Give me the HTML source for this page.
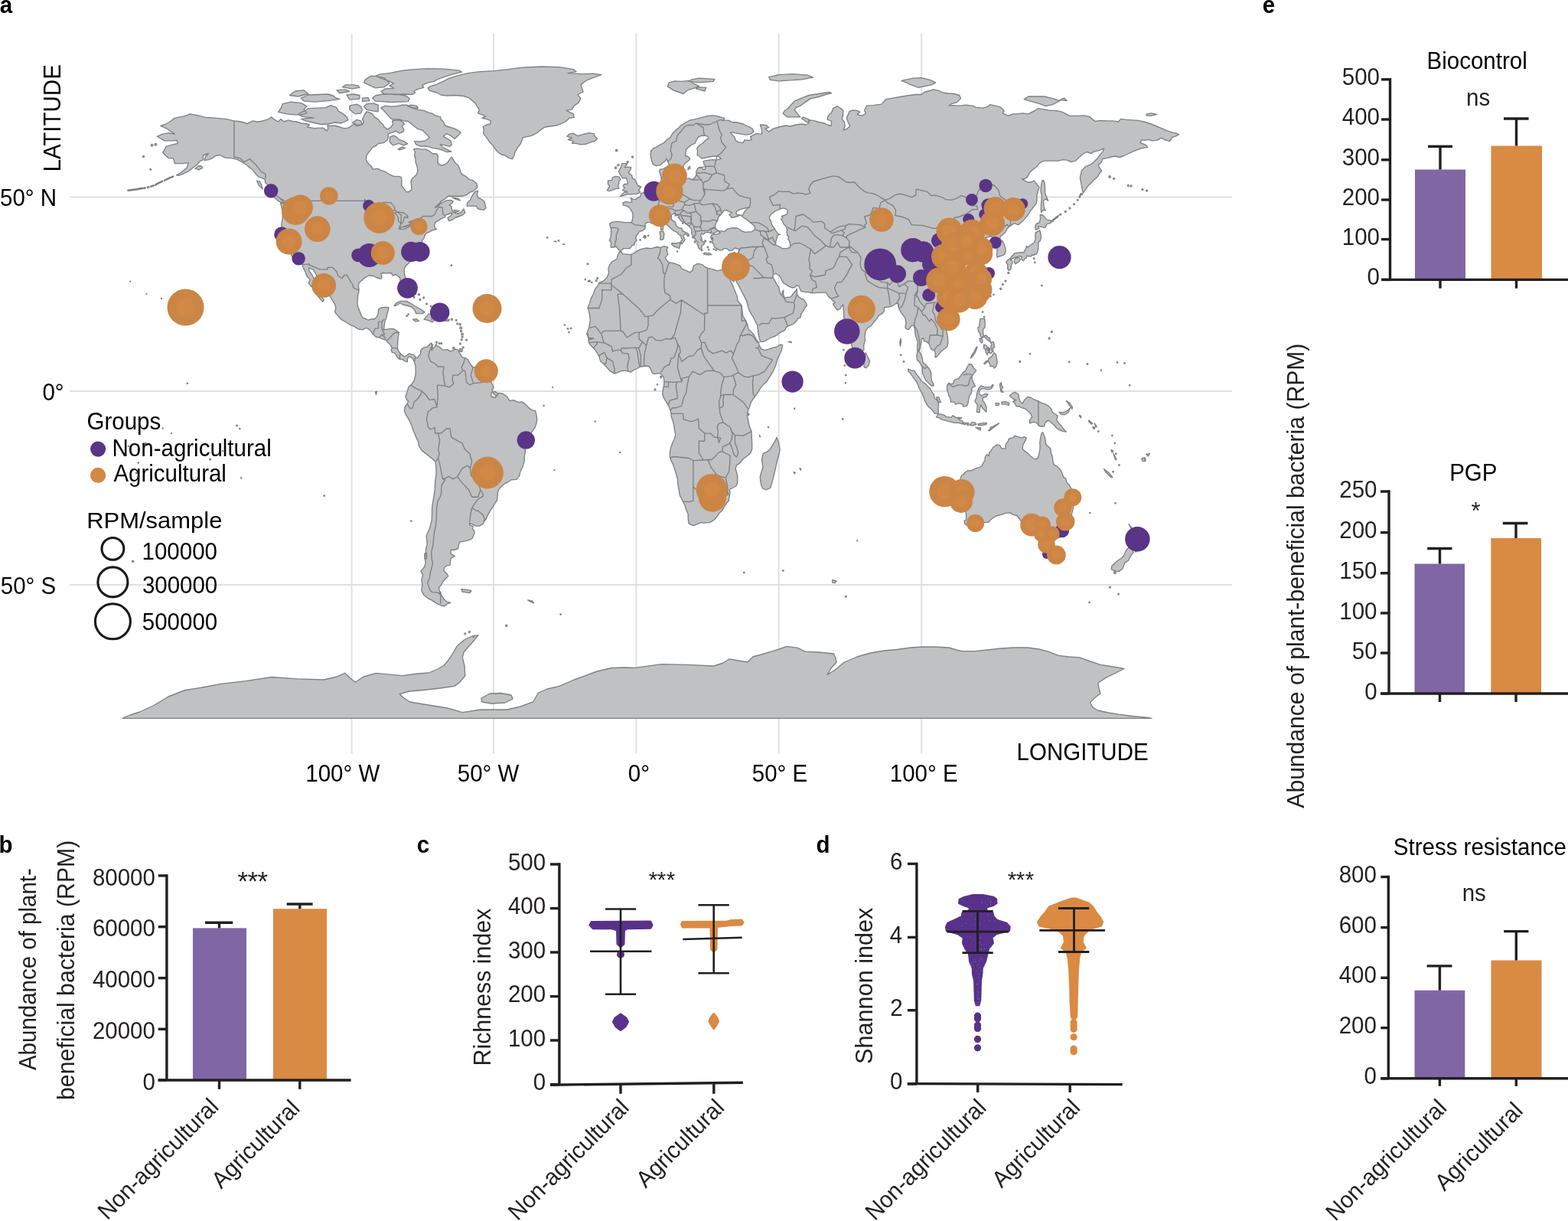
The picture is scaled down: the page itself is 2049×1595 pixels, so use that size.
<!DOCTYPE html><html><head><meta charset="utf-8"><title>Figure</title><style>html,body{margin:0;padding:0;background:#fff;width:2049px;height:1595px;overflow:hidden}svg{display:block}</style></head><body><svg xmlns="http://www.w3.org/2000/svg" width="2049" height="1595" viewBox="0 0 2049 1595" font-family="'Liberation Sans', Arial, Helvetica, sans-serif"><rect width="2049" height="1595" fill="#fff"/><g stroke="#e0e0e0" stroke-width="2"><line x1="459.6" y1="44" x2="459.6" y2="984.5"/><line x1="645.0" y1="44" x2="645.0" y2="984.5"/><line x1="831.4" y1="44" x2="831.4" y2="984.5"/><line x1="1017.7" y1="44" x2="1017.7" y2="984.5"/><line x1="1204.2" y1="44" x2="1204.2" y2="984.5"/><line x1="91.3" y1="257.4" x2="1610" y2="257.4"/><line x1="91.3" y1="511.0" x2="1610" y2="511.0"/><line x1="91.3" y1="763.9" x2="1610" y2="763.9"/></g><g fill="#c0c1c3" stroke="#7e8083" stroke-width="1.35" stroke-linejoin="round"><path d="M305.9,157.9L294.7,155.4L277.9,153.9L268.6,153.4L261.2,151.4L248.1,148.8L242.5,151.4L235.1,152.9L228.0,154.4L222.0,159.0L214.6,163.0L209.7,164.5L218.3,168.1L221.3,170.6L225.8,173.1L228.4,175.2L220.2,173.6L212.7,175.2L205.3,178.2L210.9,181.7L215.0,183.8L223.9,183.8L231.4,183.3L232.1,187.3L225.8,188.8L217.2,191.4L214.6,196.4L212.7,199.0L215.7,202.5L220.2,206.6L226.1,206.6L227.6,210.6L228.4,213.6L238.8,213.6L246.3,212.6L244.0,219.2L239.9,222.8L235.1,226.3L230.6,228.8L233.2,229.3L238.8,227.3L246.3,223.8L251.9,219.2L257.4,215.2L261.2,210.6L265.6,208.6L265.3,203.0L272.4,200.5L268.6,204.5L267.1,209.6L272.4,208.6L277.9,206.6L281.7,203.5L287.3,202.5L294.7,206.1L302.2,206.6L309.6,208.1L317.1,212.1L322.7,215.7L326.4,219.2L330.1,221.8L333.8,226.8L337.6,230.9L343.2,232.9L346.1,234.4L346.9,239.0L350.6,242.0L353.6,246.1L356.2,250.6L356.2,254.2L361.8,256.2L366.3,259.2L371.9,262.3L373.7,266.3L366.6,265.3L368.5,272.9L369.3,276.4L369.3,285.1L367.8,293.7L368.5,300.2L367.8,305.8L370.0,311.4L373.0,318.0L374.8,320.0L377.1,325.1L378.9,329.1L381.9,335.2L386.0,336.2L389.8,338.2L392.4,340.8L395.0,345.8L396.5,349.9L399.1,355.4L400.9,360.5L405.4,365.6L403.2,369.6L406.1,373.7L411.0,377.7L413.6,383.8L415.8,387.3L419.6,391.9L421.8,394.4L423.3,391.4L420.3,387.9L418.4,385.8L416.2,379.2L413.2,371.1L411.0,365.6L408.0,359.5L403.9,353.4L403.5,349.9L409.5,352.4L413.2,359.0L417.0,364.6L419.6,369.1L423.7,374.7L426.6,381.3L430.7,386.3L434.8,392.9L438.2,399.0L438.9,403.0L437.5,407.1L439.3,410.1L442.7,413.7L446.4,417.7L450.5,419.8L455.0,422.8L458.7,424.8L463.5,426.8L468.0,429.9L473.6,430.9L477.3,428.9L480.3,428.9L483.7,431.4L487.4,436.5L491.1,440.0L495.6,441.0L499.0,442.5L502.7,443.6L504.9,444.6L506.4,447.1L509.8,450.1L512.0,454.2L511.3,457.7L512.4,460.3L515.0,460.8L516.8,462.3L519.8,467.4L522.4,469.4L526.5,469.9L529.5,471.9L532.5,472.9L532.1,468.9L535.1,465.3L537.3,466.8L539.9,468.9L541.4,472.9L542.9,477.5L543.3,485.1L542.9,490.7L541.1,497.2L537.7,502.3L533.6,505.8L532.9,509.4L531.4,513.9L529.9,518.0L531.7,522.6L533.6,523.6L532.1,527.6L529.1,531.2L528.4,536.2L529.9,540.8L533.6,546.9L537.0,553.4L539.9,562.1L543.3,570.2L546.7,577.8L547.4,582.3L551.1,588.4L557.5,593.4L563.8,598.5L569.0,603.1L569.8,609.7L570.1,618.8L568.6,629.4L568.3,638.5L566.8,649.7L565.3,657.3L564.5,664.9L564.5,672.4L564.2,679.5L562.7,685.6L560.8,691.7L558.6,696.8L557.1,700.3L557.8,705.4L558.2,711.4L556.7,716.0L556.3,721.6L555.2,729.2L556.3,735.7L554.1,741.3L550.0,745.9L552.6,750.9L550.8,757.5L551.9,763.6L550.8,771.2L553.4,776.8L559.3,781.8L564.9,784.4L570.5,788.4L575.7,790.4L580.6,792.0L584.3,788.9L588.8,787.4L583.6,785.9L579.5,781.8L576.8,777.3L573.1,775.2L576.5,775.2L574.2,771.7L573.5,767.7L576.5,764.1L579.1,759.5L581.7,756.5L585.8,752.5L583.9,749.4L579.8,745.4L580.9,741.3L583.9,738.8L588.0,738.3L588.4,734.2L589.1,729.7L591.8,727.6L594.4,726.6L591.4,724.6L589.1,723.6L589.1,718.5L593.6,718.5L598.8,716.5L599.6,710.4L601.1,707.9L607.8,706.9L614.5,704.9L617.1,703.3L619.7,697.3L620.1,694.2L617.5,690.7L618.2,687.6L614.1,686.1L613.4,683.6L616.7,684.6L621.6,687.1L626.4,687.1L630.9,684.6L632.8,681.1L635.4,677.5L637.6,672.4L640.6,667.4L643.9,662.3L646.9,657.3L649.5,653.7L650.3,647.1L650.6,642.1L652.5,638.5L656.2,634.5L660.0,631.4L663.7,629.9L667.4,626.9L674.9,626.4L678.6,621.8L680.1,615.7L683.1,609.7L685.3,601.6L685.3,596.5L686.4,589.9L686.0,581.3L686.4,576.2L689.8,573.7L692.0,568.6L695.4,563.6L699.1,558.5L701.0,552.9L701.7,547.4L701.0,541.8L699.5,536.7L695.4,535.7L692.0,533.7L687.9,529.1L682.7,525.1L676.7,525.1L671.1,522.6L665.9,523.6L662.6,518.0L656.2,513.9L651.4,513.4L648.8,518.0L645.0,513.9L642.8,509.9L645.0,505.8L642.8,501.3L640.6,495.2L639.1,489.1L635.7,485.1L630.9,481.0L626.4,480.0L620.8,480.0L618.2,480.0L614.9,476.0L611.5,469.9L607.8,467.4L604.1,466.8L600.3,460.8L598.5,456.7L593.6,456.2L589.1,459.3L584.7,456.7L578.7,457.2L576.5,455.2L572.7,452.2L569.8,451.7L570.5,448.6L568.3,452.7L565.3,455.2L564.5,457.7L563.1,454.2L565.7,450.6L563.4,448.1L560.8,450.6L558.2,453.2L554.9,453.7L552.6,454.7L550.0,457.2L549.3,462.8L547.0,465.3L545.2,467.9L542.9,466.3L540.7,463.3L538.1,462.8L534.7,461.8L531.7,464.3L528.0,465.8L525.0,463.8L522.8,461.3L519.8,456.7L519.5,452.2L519.8,446.6L520.2,442.0L520.9,436.5L521.3,434.4L518.3,432.4L515.0,429.9L510.9,429.4L504.9,430.4L501.6,430.4L502.3,424.3L503.1,419.2L504.5,416.2L505.7,411.1L507.2,405.6L507.9,401.5L505.3,401.5L501.6,401.5L496.7,402.5L494.5,404.6L494.1,410.1L492.2,414.2L489.3,416.7L485.5,416.7L481.1,418.2L478.1,416.7L474.0,415.2L471.7,411.1L469.9,406.1L468.0,401.5L466.9,397.5L467.3,391.4L467.6,386.3L468.8,381.3L469.1,378.7L468.4,373.7L469.1,369.6L473.6,365.6L477.3,362.5L481.8,360.0L488.5,360.5L492.6,363.0L498.2,364.1L499.0,361.0L497.5,357.5L501.6,356.5L505.3,357.0L510.9,356.5L513.5,360.0L517.2,358.5L520.2,360.5L522.8,363.5L523.2,368.6L525.0,374.2L526.5,377.7L528.8,382.3L531.7,382.8L532.9,378.7L532.9,374.2L531.0,367.1L529.9,363.0L528.4,357.5L528.0,351.9L530.3,347.3L533.6,344.3L537.0,340.8L540.7,338.7L544.4,335.2L547.4,333.2L550.0,331.6L548.9,326.6L548.1,323.5L549.6,320.0L551.5,315.9L551.9,313.9L554.1,310.9L555.6,306.3L556.7,304.8L561.2,302.8L564.9,300.8L568.3,300.2L570.5,299.2L568.6,297.7L567.5,294.7L568.3,292.1L569.8,289.6L573.1,288.1L576.1,286.1L581.7,283.5L582.1,281.0L586.2,279.5L591.0,278.0L589.5,281.5L585.0,284.5L586.5,288.6L590.3,287.6L594.7,284.5L600.3,282.5L604.1,281.0L607.8,278.0L605.9,272.9L602.2,277.5L598.5,279.0L593.6,278.0L590.6,274.4L589.9,269.9L587.3,267.8L591.4,264.8L592.1,262.8L588.4,261.3L583.6,261.8L577.2,264.8L571.6,269.9L568.3,271.4L569.4,269.9L574.2,265.8L577.2,262.3L580.6,260.7L585.4,256.2L591.0,256.2L598.5,256.2L604.1,256.2L609.6,254.7L614.1,251.1L618.6,249.6L621.6,247.1L623.8,244.5L622.7,239.5L617.8,235.4L614.1,234.9L609.6,230.9L604.1,227.8L601.8,224.3L600.3,219.2L598.5,215.7L594.7,212.6L592.5,208.6L590.3,205.0L588.0,207.6L585.4,211.6L581.7,214.7L577.2,216.2L572.4,213.6L572.0,209.1L572.4,203.5L570.5,201.0L564.9,200.5L561.2,197.4L556.3,194.9L550.0,194.9L544.4,193.9L540.7,194.9L542.6,199.0L541.4,202.5L542.9,207.6L543.3,212.6L545.2,217.7L545.9,223.8L543.7,228.8L538.8,232.9L537.0,236.9L537.7,243.0L537.7,248.1L534.0,250.6L531.0,250.6L527.6,246.1L524.7,242.0L525.0,236.9L524.3,231.4L520.2,230.4L514.6,230.4L509.0,227.8L503.4,224.3L497.8,222.3L493.0,220.2L487.4,221.2L484.8,216.7L480.3,212.6L478.5,208.6L478.8,204.0L480.7,200.5L484.0,196.4L487.0,192.4L492.2,189.8L493.7,187.8L501.6,186.3L506.0,183.3L507.5,179.2L507.2,175.2L510.1,173.6L512.7,173.1L517.2,171.1L522.1,174.2L527.6,171.6L527.6,168.6L525.0,164.5L528.4,162.5L526.9,160.0L523.5,157.4L516.5,156.9L512.7,157.9L513.5,162.5L510.9,166.0L506.4,169.1L502.3,166.0L500.4,162.5L496.7,159.5L494.1,155.9L489.3,152.9L486.7,148.8L481.8,146.3L478.8,145.8L476.6,149.3L473.6,155.9L475.5,159.5L471.7,163.5L466.2,164.5L464.3,161.0L460.6,163.5L455.0,167.1L449.4,167.6L443.8,166.0L438.2,164.0L432.6,164.5L427.8,164.0L428.9,167.6L427.4,171.1L422.2,167.1L417.0,167.1L411.0,167.6L405.8,166.6L401.7,166.0L404.3,163.0L399.8,161.5L393.5,161.0L387.9,159.0L382.3,158.5L376.7,156.9L371.1,159.0L367.0,155.4L363.7,159.0L358.1,155.9L354.3,152.9L350.6,155.9L346.9,156.9L341.3,158.5L335.7,159.0L330.1,157.9L326.4,160.0L322.7,161.5L317.1,159.5L311.5,158.5ZM669.3,207.6L664.4,206.1L660.0,203.0L654.4,201.5L650.3,198.5L646.9,194.4L643.9,189.8L640.2,186.3L637.6,182.3L634.6,178.2L631.6,174.2L632.4,169.6L631.3,165.5L635.7,163.0L640.6,162.0L641.3,157.9L636.9,155.9L630.1,154.4L634.6,151.9L630.1,149.8L624.6,147.8L626.4,143.3L623.4,138.7L620.8,134.7L616.0,130.6L612.3,127.6L605.9,125.5L594.7,124.5L583.6,125.0L576.1,124.0L570.5,121.0L561.2,118.4L559.3,114.9L563.1,112.4L570.5,110.3L578.0,106.8L587.3,102.2L598.5,98.7L611.5,95.7L626.4,93.6L645.0,92.6L663.7,90.6L682.3,88.1L708.4,87.0L730.8,87.6L749.4,90.6L753.1,93.6L742.0,95.7L760.6,96.7L775.5,96.2L785.9,97.7L777.4,100.7L768.0,104.3L762.5,107.8L759.1,110.9L760.6,115.4L762.1,120.0L755.0,123.5L758.7,128.6L756.1,134.1L750.2,138.2L747.5,142.8L740.1,144.3L749.4,148.8L750.2,153.4L743.8,154.4L739.0,159.0L728.9,163.5L719.6,165.0L712.1,166.0L706.5,169.6L701.0,174.2L693.5,177.7L687.9,178.7L683.1,180.2L681.6,184.8L679.7,188.8L676.7,192.4L673.0,198.5L671.9,203.5L669.3,207.6ZM589.9,198.0L584.7,195.4L578.7,192.4L575.0,188.3L579.8,189.3L587.3,191.4L590.3,189.3L589.1,183.8L584.3,181.2L579.1,178.2L583.6,174.7L589.1,177.2L594.0,181.2L598.5,177.2L602.2,173.1L598.1,170.1L592.9,167.6L587.3,166.0L581.7,164.0L579.8,159.5L576.1,155.9L575.7,152.9L568.6,150.9L564.9,148.3L559.3,146.8L553.7,144.3L546.3,143.3L540.7,141.7L531.4,137.2L525.8,137.2L518.3,138.7L510.9,139.2L503.4,138.2L497.8,140.7L502.7,145.8L507.2,150.9L510.9,154.9L514.6,156.4L522.1,155.9L527.6,157.9L533.2,158.5L537.0,161.5L540.7,164.5L546.3,168.6L551.9,170.1L555.6,173.6L559.3,177.2L561.2,180.2L555.6,183.8L548.1,184.8L541.4,184.3L543.7,188.8L550.0,191.4L555.6,190.9L561.2,191.9L564.9,193.4L568.6,193.9L574.2,194.9L578.7,196.4L583.6,198.5L589.9,198.0ZM546.3,141.2L538.8,141.2L532.5,138.7L537.0,137.2L544.4,138.2ZM532.5,187.8L527.6,189.8L521.3,187.3L513.5,189.8L509.0,185.3L509.8,178.7L514.6,177.2L518.3,179.2L521.3,182.3L527.6,184.3ZM529.5,193.4L522.1,195.9L520.2,194.9L525.8,191.9ZM533.2,132.6L522.1,133.1L510.9,133.6L499.7,132.6L490.4,132.1L486.7,128.1L490.4,125.0L499.7,123.0L510.9,123.0L522.1,123.5L531.4,125.5L535.1,129.1ZM538.8,123.5L527.6,123.0L516.5,123.5L501.6,122.5L497.8,119.5L503.4,115.9L514.6,115.4L509.0,111.9L514.6,108.8L505.3,104.8L501.6,101.7L490.4,99.7L496.0,97.2L510.9,95.2L525.8,92.1L540.7,90.6L559.3,89.6L581.7,90.1L600.3,92.1L603.3,94.1L591.0,97.2L581.7,100.2L572.4,103.3L566.8,106.3L557.5,108.3L551.9,111.4L553.7,114.4L546.3,116.4L540.7,119.0L542.6,121.0ZM509.0,108.8L501.6,113.9L490.4,114.9L482.9,111.4L475.5,107.8L477.3,103.8L484.8,99.2L492.2,99.7L497.8,102.2L505.3,104.8ZM469.9,114.4L460.6,115.9L447.5,113.9L451.2,110.9L462.4,110.9L468.0,111.9ZM456.8,119.5L443.8,121.5L440.1,117.9L451.2,116.9ZM482.9,131.6L473.6,132.6L473.6,128.1L481.1,127.6ZM469.9,129.1L456.8,130.1L453.1,124.0L462.4,123.0L469.9,124.5ZM443.8,129.6L428.9,131.6L412.1,133.1L397.2,132.1L393.1,128.1L402.8,124.0L415.8,123.5L428.9,123.0L436.3,125.5L438.2,127.6ZM402.8,122.5L389.8,126.0L378.6,124.5L386.0,119.0L397.2,117.9ZM400.9,147.8L393.5,149.8L384.2,149.8L374.8,148.8L363.7,146.3L367.4,140.7L369.3,135.7L380.4,133.1L393.5,134.7L400.9,138.7L397.2,142.8ZM455.0,156.9L445.7,161.0L438.2,160.0L428.9,162.0L419.6,162.5L408.4,160.0L399.1,157.9L393.5,155.4L410.2,153.9L395.3,152.4L389.8,149.3L393.5,146.8L399.1,144.3L402.8,141.7L414.0,141.2L425.2,140.7L432.6,137.7L440.1,140.7L441.9,144.8L449.4,149.3L453.1,152.9ZM471.7,147.8L464.3,148.8L460.6,146.3L456.8,142.8L456.8,138.2L466.2,136.2L471.7,139.2L473.6,143.3ZM494.1,145.8L486.7,144.8L479.2,143.3L475.5,139.2L479.2,135.7L488.5,135.2L494.1,137.2ZM473.6,163.0L464.3,163.5L460.6,160.0L466.2,156.4L471.7,157.9ZM610.4,269.4L617.1,268.8L622.7,269.4L624.6,272.9L632.0,274.4L635.0,271.4L633.9,267.3L633.1,263.3L628.3,259.7L624.6,258.2L623.4,254.2L624.6,249.1L620.5,250.6L617.5,254.7L614.1,261.8L610.4,265.3ZM591.0,258.2L596.6,260.7L601.4,261.8L598.5,259.2ZM592.9,274.4L600.3,275.4L595.5,277.5ZM371.9,265.3L367.4,264.3L363.3,262.3L359.2,258.7L354.3,255.7L353.2,253.1L358.1,254.2L363.7,257.2L367.4,260.7ZM343.2,247.1L338.3,242.0L335.7,236.4L339.4,236.9L341.3,240.5ZM264.9,219.2L260.1,221.8L254.8,220.2L259.3,216.7L263.0,216.7ZM515.0,399.5L518.3,395.4L523.9,393.4L531.4,393.4L537.0,396.5L542.6,400.0L548.1,403.0L554.9,407.6L551.9,409.6L543.7,409.6L542.2,405.6L537.7,401.0L531.4,399.0L526.5,398.0L522.8,396.0L517.6,399.0ZM554.1,417.2L560.1,410.1L564.9,409.6L570.5,410.6L573.5,414.2L576.5,416.2L574.2,417.2L567.9,418.2L564.9,420.8L560.1,418.7L554.1,417.2ZM539.6,417.2L544.4,416.7L547.4,419.2L545.2,419.8L542.6,419.8ZM580.9,416.7L586.9,417.2L586.5,419.2L580.9,419.2ZM540.7,375.2L544.4,376.2L543.7,377.7L539.9,376.2ZM539.9,383.8L541.8,387.9L541.4,389.9L539.2,386.3ZM602.9,769.7L609.6,770.2L616.0,771.7L613.4,774.7L608.5,773.7L604.1,773.2ZM557.5,722.1L554.9,723.1L554.9,729.7L557.5,729.7ZM600.7,455.7L604.4,455.7L604.1,459.3L600.7,459.3ZM642.1,512.9L646.9,511.4L651.0,514.5L646.9,519.5L642.1,518.0ZM809.4,329.1L807.5,332.7L806.1,338.2L803.1,340.2L799.7,341.8L796.7,345.8L794.9,351.4L795.6,356.5L793.4,362.0L789.3,366.6L783.3,369.1L780.7,373.7L777.4,378.2L775.5,383.8L772.1,390.4L770.6,396.0L768.0,402.0L769.5,406.6L770.6,412.2L771.4,418.2L769.9,426.3L768.4,431.9L766.6,436.0L768.8,440.5L769.2,446.6L771.0,450.1L774.0,453.2L777.0,456.2L780.3,460.8L782.6,465.3L784.8,471.9L788.9,475.5L792.6,479.5L797.1,484.6L803.1,488.1L807.2,486.6L812.0,484.6L816.5,484.1L821.0,485.1L824.7,486.1L828.4,483.1L833.3,481.0L837.0,479.0L841.5,478.5L844.4,478.0L848.2,479.0L850.0,481.5L852.3,487.1L854.1,488.6L857.5,488.1L862.3,487.6L864.6,490.1L866.8,492.2L867.9,497.2L867.6,504.3L866.4,508.9L865.7,514.5L867.2,519.5L870.9,525.6L873.5,529.6L875.8,535.2L876.9,539.8L877.2,544.3L879.5,550.4L880.6,555.5L881.7,562.6L882.8,567.6L881.0,574.2L878.7,578.8L876.9,584.3L875.4,590.4L875.4,596.5L876.9,601.6L879.5,606.6L881.7,613.2L883.6,619.3L885.4,625.9L885.8,631.9L887.3,641.1L888.4,647.1L892.5,655.2L894.8,659.8L896.6,665.9L899.2,671.4L899.2,677.5L900.0,683.1L903.3,685.6L905.9,686.6L911.5,684.6L915.6,682.6L920.8,683.1L926.8,682.6L930.2,681.1L933.9,678.5L937.2,674.5L940.2,669.9L943.6,666.9L946.9,661.3L949.5,657.3L952.2,654.2L953.3,647.1L954.0,642.6L952.9,639.5L956.3,638.0L961.8,635.0L963.7,631.4L963.7,622.8L963.0,618.3L961.1,612.2L962.6,607.6L966.7,605.1L971.2,599.5L976.8,595.5L980.9,591.4L982.7,586.4L982.7,578.8L982.3,571.2L982.0,563.6L979.0,556.0L977.9,549.9L976.4,542.8L977.5,536.2L979.4,531.7L981.2,526.1L983.8,521.5L986.4,518.5L989.8,513.4L993.5,507.4L997.6,502.3L1002.1,498.2L1006.6,491.2L1010.3,485.1L1013.7,477.0L1015.9,469.4L1019.2,462.3L1021.5,456.7L1022.6,450.6L1019.6,450.1L1015.1,453.2L1010.3,454.2L1004.3,456.2L999.1,457.7L994.6,455.7L992.4,451.7L990.9,447.1L987.9,442.5L985.0,437.0L981.2,432.9L978.2,429.9L976.8,424.3L974.5,418.7L970.8,413.2L970.0,406.1L968.9,399.0L964.1,392.9L963.3,387.3L960.0,379.2L957.4,372.7L954.4,366.1L952.9,359.0L952.2,351.9L949.2,350.9L945.4,350.9L942.5,352.4L937.6,353.9L932.0,351.9L925.3,350.4L920.8,348.4L917.1,345.3L911.5,344.3L906.3,347.3L904.8,353.4L901.5,355.9L896.6,353.4L891.0,351.4L888.4,346.8L880.6,343.8L874.3,342.8L870.9,339.7L869.4,336.7L872.8,332.1L870.9,326.1L872.8,323.0L869.0,322.0L867.6,321.5L863.1,323.5L858.2,322.5L851.5,324.6L844.4,324.0L837.0,325.6L831.4,328.6L826.9,331.6L823.2,332.7L818.4,332.1L813.5,331.6L811.6,328.6ZM810.5,328.1L807.9,325.6L805.3,322.0L801.6,323.0L798.2,323.0L798.6,317.0L796.4,314.4L797.9,309.9L798.6,304.8L798.6,298.7L797.1,295.2L796.7,292.1L800.5,290.1L805.3,289.6L809.8,289.6L816.5,290.6L823.9,290.6L825.8,289.6L826.9,284.5L826.9,278.5L824.3,273.9L822.1,270.9L818.4,268.8L814.3,267.8L813.9,264.8L818.4,263.3L823.2,264.3L825.8,263.8L824.3,258.7L826.9,260.2L830.7,260.7L832.9,258.7L837.0,256.7L837.4,252.6L840.7,251.6L844.1,250.1L847.1,247.1L848.9,242.5L851.9,240.5L857.5,239.5L862.0,239.0L863.8,236.9L864.2,232.9L863.5,229.3L861.6,224.3L862.3,221.2L866.8,220.7L870.9,218.2L870.2,222.3L869.8,225.3L872.0,224.8L869.4,228.8L868.3,231.9L869.4,234.9L872.4,236.9L877.2,235.4L881.3,234.4L884.3,237.5L889.2,235.9L894.4,233.9L900.3,232.9L904.4,234.9L907.8,232.4L910.0,228.3L909.7,224.3L911.9,219.7L915.6,218.2L919.0,221.2L921.6,221.2L922.3,217.2L920.1,214.7L919.0,210.6L923.5,209.6L930.2,208.6L935.8,209.1L942.5,207.1L938.4,204.0L932.0,204.0L924.6,205.5L917.1,207.1L914.5,204.5L911.2,202.5L911.5,197.4L910.8,193.4L914.1,189.8L919.0,186.3L923.1,182.3L926.1,180.7L924.9,178.2L921.6,177.2L916.4,177.2L912.6,179.2L910.4,182.3L908.2,187.3L904.1,188.8L900.3,191.9L896.6,194.9L895.9,200.5L895.5,203.5L899.6,205.0L901.8,207.6L899.6,210.1L896.6,212.1L893.3,215.7L892.9,220.7L891.0,225.3L885.8,226.8L879.9,229.9L879.5,227.3L878.4,224.3L876.9,220.2L875.0,216.7L873.1,212.1L871.7,209.1L870.9,207.1L869.4,210.6L866.8,212.1L862.7,215.7L857.5,216.7L853.4,214.7L851.9,211.1L850.8,206.6L850.0,201.5L850.8,196.9L853.8,193.9L858.2,191.9L863.1,188.8L867.9,186.3L871.7,182.3L876.1,179.2L878.7,174.7L882.8,170.1L886.9,167.1L889.5,164.0L892.9,162.0L897.7,159.0L902.2,156.9L907.8,155.9L913.4,154.4L919.0,152.9L924.6,151.4L930.2,150.9L935.8,151.4L941.3,152.9L946.9,154.4L945.1,156.9L952.5,157.4L956.3,159.5L963.7,160.0L971.2,162.0L978.6,165.5L983.1,168.1L985.0,172.1L981.2,175.2L974.9,176.2L965.6,174.7L958.1,173.1L954.4,173.1L960.0,179.2L961.1,183.3L965.6,185.8L971.2,186.3L973.0,182.8L978.6,183.3L982.3,182.3L980.5,178.7L987.9,174.7L995.4,175.2L995.4,169.6L993.5,163.0L1001.0,163.5L1004.7,166.6L999.9,168.1L1004.7,172.1L1010.3,168.1L1017.8,166.0L1027.1,164.0L1032.7,165.0L1040.1,163.0L1047.6,162.0L1053.2,163.0L1056.9,161.0L1056.9,156.9L1062.5,157.4L1069.9,159.5L1077.4,161.0L1081.1,163.0L1086.0,164.5L1086.7,158.5L1081.1,155.9L1082.2,150.9L1086.7,146.8L1088.6,141.7L1094.2,138.7L1099.0,141.7L1102.0,144.8L1101.6,149.8L1100.5,155.9L1103.5,159.5L1104.2,165.0L1102.0,170.1L1107.2,168.1L1110.9,164.5L1109.1,161.5L1107.2,156.9L1106.5,153.4L1108.3,149.8L1110.2,145.3L1114.7,143.8L1120.2,144.3L1124.0,146.3L1120.2,149.3L1125.8,151.4L1131.4,148.3L1129.6,144.3L1132.5,138.2L1140.7,137.7L1151.9,136.2L1155.6,132.1L1157.5,129.6L1166.8,128.1L1176.1,126.5L1185.5,125.0L1196.6,123.5L1204.1,123.5L1207.8,120.5L1220.1,116.9L1226.5,118.4L1232.1,121.0L1239.5,122.0L1247.0,122.5L1253.7,124.5L1255.5,128.6L1250.7,133.6L1243.2,135.7L1239.5,138.2L1245.1,137.7L1254.4,138.2L1261.9,137.2L1271.2,138.2L1274.9,140.2L1284.2,141.2L1289.8,139.7L1293.5,136.7L1302.9,138.7L1308.5,140.7L1312.2,144.8L1310.3,147.8L1317.8,151.4L1323.4,148.8L1329.0,148.8L1336.4,147.8L1343.9,148.8L1349.5,145.8L1353.2,143.8L1356.9,141.7L1364.4,142.8L1371.8,144.3L1379.3,144.3L1386.7,145.8L1392.3,148.3L1397.9,151.4L1407.2,151.4L1416.5,150.9L1424.0,152.4L1427.7,155.9L1431.4,158.5L1438.9,157.4L1446.4,157.9L1453.8,157.9L1461.3,159.0L1465.0,155.4L1472.4,156.4L1479.9,156.9L1487.4,157.4L1496.7,159.5L1504.1,162.0L1511.6,165.0L1519.0,168.1L1524.6,170.6L1532.1,173.1L1535.8,173.6L1540.6,175.7L1535.8,178.2L1532.1,179.2L1530.2,182.3L1528.3,184.3L1522.8,182.8L1517.2,180.2L1511.6,183.3L1506.0,183.8L1500.4,182.3L1496.7,183.3L1492.2,182.8L1489.6,186.3L1497.4,189.3L1499.7,192.4L1491.1,193.9L1481.8,197.4L1476.2,200.0L1468.7,203.5L1463.1,205.5L1457.5,204.0L1451.9,205.0L1446.4,206.6L1440.8,207.6L1439.6,211.6L1435.2,215.7L1437.0,219.2L1439.6,223.3L1437.0,226.3L1434.1,230.9L1429.6,234.9L1425.9,239.0L1422.1,242.5L1419.1,247.1L1415.4,252.1L1413.9,246.1L1412.8,239.5L1411.3,231.9L1413.6,222.8L1418.4,217.7L1425.9,214.7L1432.6,208.6L1437.0,203.0L1441.5,197.4L1442.6,193.9L1437.0,196.4L1429.6,198.0L1425.9,200.5L1420.3,198.5L1414.7,201.5L1409.1,206.6L1405.4,210.1L1399.8,211.6L1394.2,209.1L1388.6,208.6L1383.0,210.1L1375.5,210.1L1370.0,210.1L1364.4,210.1L1358.8,212.6L1355.0,217.7L1349.5,221.8L1345.7,225.3L1342.0,231.9L1338.3,233.9L1335.3,233.4L1342.0,238.0L1347.6,238.0L1351.3,235.9L1354.7,240.5L1358.0,244.5L1356.5,249.6L1355.0,254.7L1355.0,260.7L1354.3,265.3L1350.2,270.9L1346.8,275.4L1343.5,280.5L1339.0,286.1L1335.7,289.6L1330.8,293.7L1325.2,291.6L1321.9,294.2L1318.5,296.2L1315.9,299.2L1314.0,303.3L1310.7,306.3L1307.0,308.9L1306.6,311.9L1309.9,314.9L1312.2,319.0L1313.7,324.0L1314.0,329.1L1312.9,332.1L1310.3,333.7L1307.0,334.7L1302.9,336.2L1302.5,332.1L1303.2,328.1L1302.9,324.0L1304.0,320.0L1301.7,319.0L1298.4,319.5L1296.5,317.5L1298.4,314.4L1298.0,310.9L1295.0,308.9L1291.7,309.4L1287.2,310.9L1284.2,313.4L1283.1,310.9L1285.3,308.9L1287.2,305.3L1284.2,303.3L1280.5,305.8L1277.1,308.3L1274.2,311.9L1271.2,312.4L1269.7,314.9L1271.2,317.5L1274.2,320.5L1275.7,322.0L1278.6,321.0L1281.6,319.0L1284.6,320.5L1288.0,321.5L1287.6,323.5L1283.1,325.1L1280.5,327.6L1277.1,330.1L1275.7,334.2L1279.4,336.7L1281.2,341.8L1283.5,346.3L1285.7,349.9L1285.7,353.9L1283.5,356.5L1286.1,359.0L1285.0,363.0L1283.9,367.1L1281.2,371.1L1279.0,375.2L1277.1,379.2L1275.7,382.3L1273.4,385.8L1270.4,388.4L1267.5,390.9L1264.9,394.4L1261.1,394.9L1257.0,397.5L1254.8,397.0L1252.6,399.0L1248.8,400.0L1245.1,401.5L1242.9,403.0L1242.1,407.6L1240.6,406.1L1240.3,402.0L1235.8,401.0L1233.2,401.5L1229.4,405.1L1228.3,408.6L1225.7,412.7L1225.0,416.2L1228.0,420.3L1230.9,425.3L1234.7,428.9L1236.9,432.9L1238.4,440.5L1238.8,447.6L1238.0,452.2L1235.0,455.2L1231.3,457.7L1228.3,460.8L1225.0,465.3L1222.0,466.8L1222.4,461.3L1220.9,457.7L1217.1,456.7L1215.3,452.7L1213.8,448.6L1210.4,446.1L1207.5,445.6L1207.1,442.0L1204.5,442.5L1203.7,447.1L1202.2,454.7L1201.1,458.7L1203.7,463.3L1205.2,467.9L1206.0,473.4L1208.6,475.5L1211.9,479.0L1214.9,482.5L1216.8,487.6L1216.8,492.7L1217.5,497.2L1219.8,501.8L1220.1,503.8L1217.1,503.8L1213.8,500.8L1209.3,496.2L1207.5,491.7L1205.6,487.6L1205.2,483.6L1205.2,478.5L1203.7,477.0L1201.5,472.9L1198.5,469.9L1197.8,465.3L1198.9,459.8L1198.5,452.2L1199.3,447.1L1197.4,441.5L1195.9,435.5L1195.2,428.4L1193.7,424.8L1191.1,425.3L1187.3,430.4L1184.7,429.9L1182.9,427.9L1184.0,421.3L1182.9,415.7L1180.2,411.7L1178.0,409.1L1175.4,404.6L1174.3,400.5L1173.5,396.5L1171.3,396.0L1168.7,398.0L1166.1,399.5L1163.1,400.5L1160.5,401.0L1155.6,401.5L1155.3,406.6L1153.0,409.6L1148.9,411.7L1145.6,416.7L1141.9,420.8L1138.1,425.8L1134.4,427.9L1131.1,432.4L1129.9,439.5L1130.7,444.1L1128.8,450.1L1128.8,457.2L1126.6,458.7L1125.5,462.8L1122.9,465.3L1120.2,469.4L1116.9,465.3L1115.8,461.3L1113.9,453.7L1111.7,447.1L1109.8,441.0L1107.9,434.9L1105.3,429.4L1103.8,421.8L1102.7,414.2L1102.7,407.6L1102.0,402.5L1101.6,398.0L1099.7,400.0L1097.9,403.5L1094.2,405.1L1090.1,400.0L1088.6,397.0L1091.5,394.9L1087.8,392.4L1086.3,390.4L1083.0,387.9L1081.1,384.8L1079.2,381.8L1073.7,382.3L1068.1,382.3L1061.0,382.8L1056.9,381.8L1051.3,381.3L1046.8,380.3L1045.0,376.7L1043.8,373.7L1041.2,372.7L1038.2,375.7L1034.5,375.7L1030.8,374.2L1027.1,371.6L1023.3,369.1L1020.7,364.1L1018.5,360.0L1015.9,358.5L1013.7,357.0L1010.3,359.0L1009.9,362.5L1012.2,366.1L1015.1,371.6L1017.8,375.2L1018.5,379.2L1020.0,383.8L1021.5,385.8L1022.6,380.8L1023.7,379.2L1023.7,384.8L1025.2,388.9L1028.9,388.4L1033.4,387.9L1037.1,382.8L1040.1,379.7L1041.2,377.2L1041.6,383.8L1043.1,387.3L1046.8,389.9L1050.5,391.4L1053.5,396.0L1054.3,399.0L1052.0,402.0L1049.4,406.6L1046.8,410.1L1046.1,414.7L1042.3,416.7L1040.1,420.3L1037.1,422.8L1032.7,424.8L1027.4,427.4L1025.6,431.4L1019.6,434.4L1014.0,438.5L1010.3,440.0L1004.7,442.5L1000.2,445.1L996.5,446.6L993.5,446.1L992.4,442.5L990.9,435.5L990.5,430.4L989.8,425.3L987.2,420.3L984.6,414.7L981.6,410.1L979.0,405.1L977.1,399.5L976.0,393.9L973.4,388.9L970.8,383.8L968.2,378.7L965.2,372.7L962.6,368.6L961.1,364.1L961.5,361.0L960.4,362.5L958.9,368.1L956.6,366.1L955.1,362.0L952.9,358.5L951.8,351.9L956.3,352.9L959.2,351.9L960.7,347.8L961.8,344.3L962.6,340.8L964.1,336.7L965.2,332.1L964.8,329.1L966.3,325.1L963.7,325.1L960.4,324.0L957.0,327.1L952.9,327.6L949.5,324.6L945.4,324.6L944.3,326.6L940.6,327.1L936.9,324.6L933.5,323.0L932.8,319.0L930.2,316.4L931.3,313.9L931.7,310.4L928.7,310.4L929.4,307.3L933.1,305.8L937.6,305.8L941.3,304.3L939.5,302.8L935.8,302.8L932.0,304.8L929.0,304.8L925.7,303.3L921.6,303.8L919.0,306.3L916.7,304.8L915.6,307.8L917.1,311.9L916.0,313.9L919.0,315.9L920.8,317.5L919.0,320.0L917.1,321.0L916.7,325.6L915.3,326.1L913.0,324.0L911.9,320.0L910.8,319.0L911.9,316.4L909.7,314.4L908.5,312.4L906.7,309.9L905.2,307.3L903.7,305.3L903.7,300.8L903.0,298.2L900.3,295.7L897.4,293.2L894.0,290.6L890.7,289.1L888.1,286.1L886.9,282.0L884.7,281.0L882.1,282.0L882.5,279.0L880.2,279.0L877.2,281.0L877.6,283.5L877.2,286.6L879.9,288.6L882.5,290.6L884.0,295.2L886.9,297.7L891.0,298.2L891.4,300.8L895.5,303.3L898.5,304.8L900.3,306.8L899.6,308.9L896.6,306.3L895.1,305.3L893.3,307.8L893.3,309.9L895.1,312.9L893.3,315.9L891.4,318.0L889.9,318.5L889.9,314.9L891.8,313.9L889.9,309.9L889.5,307.3L886.9,306.3L885.4,304.3L883.6,302.8L879.9,301.3L876.9,298.7L874.3,296.2L870.5,292.6L869.8,289.6L867.6,287.1L864.2,285.6L861.2,288.1L859.0,289.1L856.0,291.6L853.0,292.1L849.3,290.6L846.3,290.1L843.3,292.1L843.0,295.7L843.3,298.2L839.6,301.3L835.1,302.8L834.4,304.3L831.4,308.3L830.3,310.9L832.1,313.9L829.5,316.4L828.8,320.0L826.2,320.5L823.9,324.0L821.7,324.6L818.7,324.6L815.0,324.6L812.8,326.1L810.5,328.1ZM1015.1,571.2L1017.4,577.8L1019.2,587.4L1017.8,594.0L1015.9,600.5L1013.7,610.7L1011.0,621.8L1008.4,631.9L1006.6,637.5L1001.0,640.0L996.5,638.0L994.3,631.9L993.2,623.3L995.0,616.7L996.9,609.7L995.4,600.5L997.3,592.4L1002.1,590.4L1006.6,586.4L1009.9,580.8L1012.5,576.7L1015.1,571.2ZM810.2,256.7L815.7,255.2L820.2,253.7L825.8,253.7L833.3,253.1L836.6,250.6L834.4,248.6L837.7,244.0L833.3,242.5L832.1,239.5L829.5,234.4L826.6,232.9L825.4,228.8L822.1,226.8L821.3,225.3L823.9,221.8L824.7,218.7L820.2,218.2L816.5,218.7L819.8,213.6L812.8,213.6L811.6,217.7L810.5,220.2L808.3,223.8L810.5,227.8L812.8,231.4L813.5,232.9L818.4,232.4L819.1,234.9L820.2,238.0L819.8,240.5L815.7,240.5L814.3,243.0L816.1,245.6L813.5,248.6L818.4,250.1L820.2,251.1L815.7,251.1L812.8,254.2ZM809.0,246.1L807.5,242.5L808.7,240.0L808.7,236.9L810.9,234.4L809.0,230.9L804.2,230.4L800.5,231.9L799.7,235.4L794.5,235.9L794.5,240.5L796.7,243.0L794.5,246.6L793.4,248.6L796.0,249.6L800.8,248.1L804.6,246.6ZM747.5,187.3L749.4,184.3L742.3,182.3L747.5,180.2L740.8,178.2L743.8,175.2L748.7,174.2L755.0,177.7L761.3,175.7L769.9,173.6L776.2,174.7L777.4,178.2L780.7,180.7L777.4,184.3L773.3,185.3L765.1,188.3L758.7,188.8L753.1,187.3ZM872.4,112.9L879.9,117.9L887.3,120.5L892.9,122.5L898.5,117.9L909.7,114.4L913.4,112.4L905.9,108.8L900.3,105.3L891.0,106.3L881.7,105.8L874.3,107.8ZM900.3,106.3L913.4,107.8L932.0,106.3L933.9,103.3L913.4,102.2L904.1,103.8ZM909.7,115.9L920.8,119.0L922.7,114.4L913.4,113.9ZM1006.6,104.3L1017.8,105.8L1032.7,104.8L1047.6,103.8L1062.5,101.2L1055.0,98.2L1036.4,96.7L1017.8,97.7L1004.7,100.7ZM1023.3,148.3L1028.9,152.9L1036.4,152.9L1045.7,152.9L1042.0,148.3L1038.2,143.8L1040.1,140.7L1045.7,138.2L1051.3,134.1L1058.7,129.1L1069.9,126.5L1077.4,124.0L1086.7,121.5L1083.0,120.5L1069.9,122.5L1056.9,124.5L1047.6,128.1L1038.2,132.1L1032.7,138.2L1029.7,141.7L1025.2,144.8ZM1049.4,152.9L1058.7,156.9L1055.0,160.0L1047.6,154.9ZM1189.2,110.3L1200.4,114.4L1217.1,110.9L1222.7,107.8L1215.3,104.3L1204.1,101.7L1192.9,102.2L1178.0,105.3L1185.5,108.3ZM1338.3,129.6L1347.6,132.6L1358.8,135.7L1366.2,138.7L1375.5,136.7L1384.9,131.6L1375.5,128.6L1364.4,126.0L1353.2,126.0L1343.9,126.0ZM1384.9,130.6L1394.2,131.6L1390.4,128.1ZM1497.8,150.9L1504.1,151.4L1511.6,149.3L1504.1,147.8L1498.5,148.8ZM1360.6,277.5L1363.2,274.4L1366.2,274.9L1364.0,269.9L1363.6,262.3L1366.2,259.7L1369.6,262.3L1365.5,252.1L1365.5,244.5L1365.1,239.5L1363.6,235.4L1361.8,236.4L1360.6,242.0L1359.9,249.1L1361.4,256.2L1360.6,264.8L1360.3,272.4ZM1353.2,300.2L1357.7,298.7L1356.9,295.7L1362.5,296.7L1365.5,297.7L1368.1,292.6L1373.7,291.1L1372.6,287.6L1368.1,287.1L1362.5,281.0L1359.1,280.5L1359.5,286.1L1358.0,291.1L1355.0,291.6L1352.8,295.2ZM1358.8,300.8L1356.9,301.8L1353.2,303.8L1352.8,307.8L1353.2,312.9L1351.3,317.0L1347.6,319.5L1343.1,323.0L1341.3,321.5L1340.9,324.6L1338.3,328.1L1337.9,330.1L1334.5,329.6L1329.0,330.1L1325.6,331.1L1321.1,336.2L1319.3,338.2L1322.2,338.2L1325.2,336.7L1329.0,335.7L1332.7,334.7L1335.3,335.7L1334.9,338.7L1337.5,340.8L1339.4,337.7L1341.6,336.7L1341.3,334.2L1343.9,334.7L1347.6,334.7L1348.7,332.7L1350.2,333.7L1352.4,332.1L1354.7,332.1L1356.5,326.6L1356.9,322.0L1356.9,316.4L1359.1,314.9L1360.6,310.4L1360.3,306.8L1358.8,300.8ZM1325.2,342.3L1327.1,344.8L1331.6,341.8L1333.4,339.2L1331.6,336.7L1327.8,337.2L1325.6,338.7ZM1314.8,342.3L1316.7,345.3L1316.7,351.4L1318.5,353.4L1320.8,351.4L1321.5,346.8L1323.0,343.3L1322.2,340.2L1319.6,338.7L1317.4,339.2ZM1279.0,393.9L1281.6,399.0L1284.2,394.9L1285.7,386.3L1284.6,382.3L1282.4,383.8L1279.8,387.9ZM1236.2,413.2L1238.4,417.2L1241.4,417.7L1244.4,413.2L1244.4,409.1L1241.4,408.6L1238.4,410.1ZM1129.2,479.5L1131.8,480.5L1135.2,477.0L1136.6,471.9L1134.0,466.8L1131.1,460.8L1129.2,466.8L1128.8,473.9ZM877.6,319.0L881.0,322.0L884.3,323.0L887.7,324.6L888.4,320.5L889.5,316.4L883.6,318.0L878.0,317.5ZM862.7,312.9L864.9,313.4L867.2,311.9L867.9,305.3L866.4,301.8L862.0,302.8L863.1,307.8ZM863.8,300.8L866.4,299.7L866.8,292.6L863.5,295.7ZM919.0,331.6L922.7,332.7L929.4,332.7L928.3,331.1L920.8,330.1ZM951.8,334.2L956.3,335.2L958.5,333.2L960.4,329.6L954.4,331.1L951.8,332.7ZM872.4,230.4L878.0,231.9L878.7,228.3L878.0,226.3L874.3,227.3ZM898.9,221.8L901.8,219.7L901.5,217.2L899.6,218.7ZM840.3,309.9L843.0,311.4L844.4,308.9L842.2,308.3ZM1030.0,446.6L1034.5,447.6L1033.4,446.1ZM1176.5,452.2L1177.6,445.6L1176.9,442.0L1175.8,448.1ZM1373.7,289.1L1378.5,286.6L1382.6,282.5L1384.9,280.5L1381.1,283.0L1376.7,286.1ZM1410.9,256.2L1413.9,253.1L1412.1,252.6ZM1362.5,564.6L1365.1,570.7L1366.2,575.2L1366.6,580.3L1369.2,582.8L1372.9,585.9L1373.3,591.4L1375.2,596.0L1375.9,602.6L1377.0,606.6L1381.1,609.1L1384.9,612.7L1387.5,616.7L1389.7,623.3L1392.7,624.8L1393.8,629.9L1397.2,633.5L1400.1,638.5L1402.0,641.6L1402.0,647.1L1403.9,654.7L1402.7,661.3L1401.6,667.4L1399.8,674.0L1396.0,678.0L1394.9,682.6L1393.4,686.6L1391.2,691.7L1390.4,697.3L1390.1,700.3L1384.9,701.8L1381.1,703.3L1377.0,706.9L1376.7,708.4L1373.7,705.9L1371.4,704.4L1368.1,705.9L1365.1,706.4L1361.8,704.9L1358.4,704.4L1355.4,702.8L1352.4,699.3L1351.7,695.2L1349.5,691.2L1346.5,690.7L1347.6,687.6L1346.1,683.6L1344.2,688.1L1341.6,688.7L1343.9,685.1L1344.2,680.6L1345.4,677.5L1343.5,679.0L1339.0,683.6L1336.8,686.6L1335.7,683.6L1333.1,679.0L1331.2,676.5L1329.0,673.5L1324.1,672.4L1320.4,669.9L1314.0,670.4L1308.5,672.4L1301.7,674.0L1296.9,677.0L1293.5,680.0L1292.1,682.1L1286.8,682.6L1281.6,682.1L1278.3,682.1L1274.9,684.6L1271.2,687.6L1267.5,687.6L1264.1,686.6L1260.8,684.1L1260.0,680.6L1262.6,679.0L1262.6,673.5L1262.2,668.9L1260.4,663.3L1259.6,658.3L1258.1,654.7L1256.3,649.2L1254.0,644.1L1254.0,640.0L1254.8,635.0L1254.4,629.9L1255.2,624.8L1256.7,620.8L1258.5,620.3L1261.5,616.7L1264.5,614.7L1268.6,615.2L1272.3,613.2L1275.7,611.7L1279.8,610.7L1283.1,608.6L1285.0,604.6L1287.2,601.0L1287.2,597.5L1289.8,593.4L1292.1,595.5L1292.8,591.4L1295.4,588.4L1297.3,584.8L1300.3,582.8L1302.9,580.8L1306.6,581.8L1308.8,585.9L1311.8,585.9L1314.4,585.9L1313.7,582.3L1315.2,578.8L1317.0,577.2L1318.1,573.7L1320.8,572.2L1324.5,571.7L1325.6,569.1L1329.0,570.2L1332.3,571.2L1335.3,572.2L1338.3,570.7L1341.3,572.2L1340.1,575.2L1338.3,578.3L1336.4,582.8L1336.4,586.4L1339.4,589.4L1342.4,591.4L1345.7,595.0L1349.5,598.0L1351.7,599.5L1354.7,599.5L1356.5,597.5L1357.7,593.4L1358.8,587.9L1359.1,582.3L1358.8,578.3L1359.5,573.2L1360.3,569.1L1361.4,565.6ZM1370.3,716.5L1374.4,717.5L1378.2,718.5L1383.7,717.5L1384.1,723.6L1382.6,729.2L1378.9,731.2L1375.5,730.2L1372.9,725.6L1370.7,720.0ZM1475.1,684.6L1477.3,687.6L1481.0,691.7L1482.9,697.3L1485.5,695.2L1487.0,700.3L1491.1,702.3L1496.7,701.3L1494.8,707.4L1491.1,708.9L1490.3,713.0L1487.4,718.0L1484.4,721.1L1482.5,719.5L1484.0,714.5L1480.6,710.9L1479.2,708.9L1482.1,705.9L1482.1,700.3L1481.0,695.7L1477.7,689.7ZM1475.1,715.5L1479.5,717.5L1481.0,721.6L1478.0,725.6L1475.4,730.2L1474.7,732.2L1469.8,735.2L1468.0,740.3L1466.5,743.3L1462.4,746.4L1458.3,746.4L1452.3,743.9L1452.7,739.8L1457.2,735.2L1460.5,732.2L1466.1,728.7L1469.5,724.1L1471.0,720.6L1472.8,717.0ZM1455.7,746.9L1458.3,747.4L1457.9,749.4L1456.0,749.4ZM1319.3,517.0L1322.6,513.9L1326.3,512.4L1330.8,515.0L1331.6,520.5L1333.1,524.6L1336.0,527.1L1339.0,522.0L1343.1,518.5L1347.6,519.5L1351.3,522.0L1355.8,523.6L1360.6,526.1L1366.2,528.1L1370.0,530.1L1374.1,534.7L1375.2,538.3L1379.3,541.3L1382.3,543.3L1380.4,548.4L1383.7,552.9L1386.7,556.0L1389.0,559.5L1393.4,564.1L1389.3,563.6L1384.1,561.5L1380.4,559.0L1376.7,554.5L1370.0,548.9L1366.2,551.9L1364.4,557.0L1358.8,557.0L1353.9,551.9L1349.5,551.4L1345.7,552.9L1345.7,547.9L1348.7,544.8L1346.5,539.8L1340.1,534.2L1335.3,532.7L1331.6,530.7L1328.2,530.7L1326.3,527.1L1323.4,524.6L1327.8,522.6L1324.5,521.5L1320.8,518.5ZM1384.1,538.3L1388.6,538.8L1392.3,537.7L1396.0,535.2L1398.6,532.7L1396.0,538.8L1391.6,541.8L1386.7,541.3ZM1393.4,523.6L1397.9,526.6L1401.6,532.2L1400.9,534.2L1397.2,529.1ZM1410.9,542.3L1412.8,543.8L1412.4,545.8L1410.2,543.3ZM1423.2,548.9L1427.7,553.4L1426.2,554.0L1422.5,550.4ZM1427.7,558.0L1430.7,559.0L1429.6,560.5ZM1430.3,552.9L1433.3,557.5L1431.8,557.5ZM1442.6,612.7L1448.2,616.7L1453.8,623.3L1451.6,623.3L1444.5,616.2ZM1452.3,587.4L1454.6,588.9L1453.8,590.9L1452.3,589.9ZM1454.9,592.4L1459.0,600.0L1457.5,600.5ZM1492.2,598.5L1496.3,598.0L1496.7,602.6L1492.6,602.1ZM1497.8,593.4L1502.3,592.4L1500.4,596.0ZM1237.6,503.3L1239.9,500.3L1243.2,501.8L1245.8,500.8L1247.3,496.2L1252.6,494.7L1255.9,490.1L1258.5,486.6L1261.5,484.6L1263.7,480.0L1266.3,475.5L1269.3,476.0L1272.7,481.0L1275.7,484.1L1272.3,488.1L1270.1,491.2L1270.4,495.2L1271.9,499.3L1274.5,504.8L1271.2,505.3L1269.7,508.4L1269.3,513.9L1266.7,517.0L1265.6,522.6L1264.9,527.1L1263.7,530.1L1258.9,531.2L1257.8,528.1L1253.3,526.6L1248.8,528.1L1247.0,525.1L1242.5,525.1L1241.7,520.0L1239.9,517.0L1238.8,512.4L1237.6,509.4ZM1186.6,482.0L1190.3,483.6L1194.8,484.1L1197.8,489.1L1200.4,492.2L1204.1,497.7L1207.1,499.8L1209.7,501.8L1212.7,505.3L1215.3,507.4L1218.3,512.9L1220.5,515.5L1221.2,520.5L1224.6,522.6L1226.5,526.1L1226.1,532.2L1226.1,539.8L1221.6,540.3L1218.3,535.7L1212.7,530.7L1208.9,524.6L1207.1,519.5L1205.2,514.5L1203.0,510.4L1201.1,506.9L1199.3,502.3L1197.8,498.8L1195.2,495.7L1192.5,491.7L1189.9,488.1L1187.0,485.1ZM1223.5,519.0L1226.8,519.0L1229.4,525.6L1226.5,525.6ZM1223.5,544.8L1226.1,540.8L1229.1,540.8L1233.9,542.3L1236.2,544.3L1242.9,545.3L1245.1,542.8L1249.2,545.3L1251.8,545.8L1254.8,549.4L1257.8,549.9L1258.1,554.0L1252.6,552.4L1247.0,552.4L1241.4,550.9L1235.8,549.4L1230.2,547.9L1227.6,545.8L1224.6,545.3ZM1251.4,545.3L1256.3,545.3L1255.9,546.9L1251.8,546.9ZM1258.1,551.4L1262.6,552.9L1260.8,555.0L1258.5,552.9ZM1263.7,552.4L1266.0,552.9L1265.2,555.5L1263.7,555.0ZM1267.1,555.0L1270.4,551.4L1274.9,552.4L1275.7,554.5L1270.4,556.0ZM1277.9,554.0L1282.4,552.9L1289.1,552.4L1289.4,554.0L1284.2,555.5L1278.6,555.5ZM1274.9,558.5L1281.6,559.0L1281.2,562.1L1277.1,560.0ZM1291.7,562.6L1295.4,558.5L1299.1,556.0L1305.5,552.9L1303.2,555.0L1297.6,559.0L1293.5,562.6ZM1276.4,538.3L1277.1,532.7L1277.1,528.1L1274.5,525.6L1274.2,523.1L1276.0,519.5L1276.4,514.5L1277.9,510.4L1279.0,506.9L1282.0,503.8L1286.1,505.3L1289.8,505.8L1294.7,505.3L1297.3,502.3L1298.0,503.3L1295.4,507.9L1290.9,508.9L1286.1,507.9L1282.4,507.9L1279.4,510.4L1279.8,515.0L1282.4,517.0L1286.8,514.5L1290.9,515.0L1289.1,518.0L1284.6,519.5L1283.9,522.6L1286.8,526.6L1289.1,531.7L1288.7,538.3L1286.1,535.2L1283.9,533.2L1282.0,528.6L1280.1,534.7L1280.1,538.8ZM1306.6,501.8L1308.5,499.8L1308.5,503.8L1310.7,505.3L1308.5,509.4L1311.1,512.4L1308.1,511.9L1307.0,506.3ZM1308.8,525.1L1314.0,524.6L1318.9,526.6L1318.1,529.6L1312.9,527.6L1309.2,528.1ZM1301.0,526.6L1305.5,526.6L1305.5,529.1L1301.4,529.6ZM1280.9,416.7L1283.5,416.2L1286.8,416.7L1287.2,422.8L1286.8,427.9L1284.6,430.4L1284.6,434.9L1285.7,439.0L1288.7,438.0L1290.6,440.5L1293.2,441.5L1294.3,446.6L1292.4,445.1L1289.8,443.6L1288.0,441.5L1285.3,440.0L1282.4,441.0L1280.9,438.0L1280.9,435.5L1278.6,432.9L1277.9,427.9L1279.8,426.8L1280.1,421.8ZM1279.8,442.5L1283.1,442.0L1284.2,446.6L1282.4,448.1L1280.5,445.1ZM1294.7,447.1L1298.4,446.6L1299.5,453.7L1297.3,454.7L1298.0,459.3L1296.2,459.8L1294.7,452.7L1295.8,450.6ZM1285.7,450.1L1289.4,451.7L1290.2,455.2L1288.0,456.7L1285.7,455.2ZM1287.6,457.2L1290.9,455.2L1291.7,459.8L1290.2,463.8L1288.3,460.3ZM1291.3,453.7L1293.5,455.2L1293.5,458.7L1291.3,460.8L1292.4,456.7ZM1292.4,460.3L1295.8,460.8L1294.3,461.8ZM1268.2,467.9L1271.2,465.3L1274.2,460.8L1277.1,453.2L1275.7,453.7L1273.0,459.3L1269.7,464.3ZM1285.7,475.0L1288.3,471.9L1291.3,470.9L1292.4,467.4L1294.7,466.8L1296.5,464.8L1298.8,460.8L1301.7,463.3L1303.2,473.4L1301.7,478.5L1299.1,481.0L1298.0,478.5L1294.3,478.5L1293.2,475.0L1291.7,471.9L1289.1,473.4L1286.8,475.5ZM250.4,413.7L253.7,412.7L253.7,410.1L250.7,408.1L250.0,410.6ZM247.4,405.1L250.0,405.6L248.1,406.1ZM241.8,402.5L243.7,402.5L242.9,401.0ZM235.8,399.0L237.7,398.5L236.6,398.0ZM187.4,578.8L189.6,579.3L188.5,580.3ZM1087.8,757.5L1093.0,759.0L1090.8,761.6L1087.8,761.1ZM689.8,783.9L695.4,784.9L697.6,787.9L692.8,785.9ZM1037.1,616.7L1039.4,617.3L1038.2,618.8ZM1045.0,611.7L1046.8,612.7L1046.1,614.2ZM772.5,368.6L774.0,368.1L773.3,369.6ZM768.0,367.1L771.0,366.1L769.9,368.1ZM724.4,315.4L727.0,315.9L725.9,314.9ZM735.2,319.0L737.9,319.0L736.4,319.5ZM737.1,423.8L738.6,424.3L738.2,425.3ZM743.1,432.9L744.2,434.4L743.1,434.9ZM490.4,511.9L492.6,511.4L491.5,515.5ZM862.7,491.7L864.6,491.7L863.8,494.2ZM977.5,539.8L979.0,540.8L978.2,542.8ZM992.4,568.1L993.5,570.7L992.8,570.7ZM160.2,938.3L170.0,934.0L182.5,930.0L200.0,922.0L220.0,910.0L242.0,901.5L252.5,899.8L270.0,897.0L286.7,893.7L320.8,889.6L355.0,884.5L389.0,886.8L423.0,888.0L440.0,884.0L450.6,879.3L458.0,886.0L464.3,891.3L475.0,884.0L491.6,879.3L525.8,882.7L545.0,880.0L560.0,879.0L572.0,874.0L580.5,869.0L586.0,862.0L590.7,855.4L597.6,843.5L607.8,835.0L617.0,831.0L624.9,829.8L620.0,836.0L612.0,845.0L606.0,852.0L604.4,858.8L607.0,870.0L607.8,882.7L601.0,891.0L594.0,896.4L575.0,899.0L553.0,901.5L535.0,903.0L522.4,906.7L528.0,912.0L536.0,917.0L560.0,921.0L585.0,925.0L604.4,930.6L628.3,927.0L662.5,927.0L680.0,923.0L696.6,916.9L703.5,905.0L715.0,900.0L730.8,896.4L750.0,888.0L765.0,882.7L780.0,877.0L799.0,872.5L815.0,872.0L830.0,872.4L864.2,867.6L898.3,868.3L932.5,870.0L945.0,866.0L953.0,860.8L965.0,863.0L977.0,865.0L983.7,858.0L995.0,855.0L1007.7,851.2L1018.0,848.0L1028.0,844.4L1041.8,846.1L1052.0,851.2L1070.0,852.0L1089.6,854.0L1092.0,860.0L1093.0,865.0L1086.0,873.0L1081.0,881.3L1090.0,876.0L1103.3,865.0L1120.0,858.0L1137.5,853.0L1155.0,850.0L1171.6,848.5L1190.0,846.0L1205.8,845.0L1222.0,845.0L1240.0,846.0L1250.0,849.0L1257.0,850.6L1274.0,850.6L1290.0,849.0L1308.3,847.0L1325.0,846.0L1342.5,846.0L1358.0,848.0L1369.8,851.2L1383.5,856.4L1397.0,858.0L1410.8,858.8L1425.0,864.0L1438.0,868.3L1455.0,871.0L1468.9,873.5L1458.0,879.0L1445.0,885.4L1434.7,892.2L1436.0,899.0L1438.0,906.0L1430.0,912.0L1424.5,917.9L1428.0,924.0L1434.7,928.0L1448.0,931.0L1462.0,933.2L1480.0,935.5L1499.6,937.3L1505.0,938.3ZM629.0,912.0L640.0,906.0L655.0,905.5L668.0,908.0L670.0,913.0L660.0,918.0L642.0,919.0L630.0,917.0Z"/></g><path d="M305.9,157.9L305.9,205.0L313.3,206.6L318.9,211.6L326.4,207.6L333.8,214.7L341.3,224.3L346.9,227.3L346.9,233.4M373.0,262.3L421.4,262.3L476.6,262.3L476.6,260.2L478.1,263.3L482.9,264.8L490.4,266.8L497.5,267.3M516.5,274.9L520.2,277.5L524.3,281.0L523.9,292.6L521.7,297.2L529.5,296.2L537.0,293.7L536.2,290.6L542.6,289.6L547.4,286.6L553.0,282.5L564.9,282.5L567.9,280.0L570.5,274.9L573.5,270.4L578.0,270.9L578.7,279.0L580.9,281.5M488.1,273.9L494.1,274.4L501.6,272.4L505.3,274.9L509.0,274.9L516.1,274.9L515.4,270.4L510.9,264.8L501.6,264.3L496.0,267.8L488.1,273.9M505.3,299.2L504.2,292.6L504.5,285.1L507.2,279.5L512.4,278.5L514.6,282.5L509.8,287.6L509.8,296.2L505.3,299.2M515.4,278.0L520.2,276.9L527.6,278.0L532.1,281.5L533.2,284.5L528.4,283.5L526.9,290.1L524.3,292.6L520.2,288.1L520.6,285.1L518.3,280.5L515.4,278.0M520.9,299.2L527.6,299.7L534.0,296.7L537.3,293.2L531.4,294.7L523.9,297.2L520.9,299.2M534.0,291.1L540.7,290.6L547.0,290.1L546.7,286.6L542.6,287.6L535.8,289.1L534.0,291.1M395.0,345.8L403.9,344.8L403.5,345.8L417.7,351.9L428.1,351.9L428.1,349.4L434.5,349.4L440.1,354.9L441.9,360.5L447.1,363.5L449.8,359.5L453.5,359.5L458.0,367.6L460.6,371.1L462.1,376.2L469.1,379.2M487.8,436.5L488.1,433.9L490.4,428.9L494.5,428.9L494.5,420.3L499.0,420.3L502.3,416.7M499.0,420.3L499.0,429.9L502.7,430.9M498.6,437.5L501.6,439.5L504.2,442.5M499.0,429.9L502.7,437.0L498.6,437.5L495.6,441.0M506.0,444.6L510.9,439.5L514.6,435.5L518.3,434.4L521.3,434.4M512.0,454.2L518.3,455.2L519.5,455.2M522.4,469.4L522.4,464.3L523.5,461.8M542.9,466.3L541.4,472.9M563.8,410.6L564.2,418.2M563.4,448.6L565.3,453.7L561.9,457.2L559.7,464.8L563.1,472.4L568.6,475.0L572.4,479.0L579.8,479.0L579.1,487.6L580.6,499.3L582.1,504.3M607.8,467.4L605.5,475.0L602.9,480.5L605.2,484.1L607.4,484.1L608.5,489.1L609.3,498.8L613.7,502.8L619.0,500.3L621.9,500.3L630.1,499.3L635.7,498.8L639.1,489.1M618.2,480.0L615.2,490.1L618.2,499.3M630.1,481.0L629.4,492.7L630.1,499.3M605.2,484.1L598.5,490.1L591.8,490.1L591.0,496.2L592.9,501.3L587.3,505.8L582.1,504.3L572.4,502.8L571.3,505.3L572.4,516.5L570.9,531.7L564.9,533.2L559.3,538.3L557.5,547.4L559.3,557.5L562.3,561.0L568.3,558.5L568.6,566.1L572.4,565.6L576.1,566.1L583.6,560.0L588.0,560.0L589.9,571.2L596.6,575.2L604.1,578.8L607.0,586.4L614.1,592.9L615.2,599.0L616.7,602.6L614.5,611.7L615.6,621.8L623.4,623.3L625.3,631.9L627.9,640.0L630.9,644.6L631.3,648.1L624.6,652.2L619.7,658.8L616.7,663.3L622.7,667.4L624.6,666.9L630.9,672.4L633.1,676.5L632.4,681.1M537.0,503.3L541.4,506.3L547.0,508.9L551.1,510.9L550.0,515.0L546.3,520.5L541.4,525.1L538.8,533.2L535.8,533.7L532.1,527.6M551.1,510.9L557.1,516.5L561.2,522.6L567.5,521.5L570.5,529.6L570.9,531.7M569.0,603.1L572.4,599.0L574.2,592.9L572.7,587.4L574.6,575.2L572.4,565.6M572.4,599.0L574.6,605.6L576.1,614.2L578.7,625.9L581.7,626.9L577.2,633.5L576.5,644.6L575.0,649.7L572.0,654.7L570.5,664.9L570.5,672.4L570.1,680.0L569.4,687.6L567.5,695.2L566.8,702.8L565.7,713.0L563.8,720.6L564.2,730.7L565.7,735.7L564.2,740.8L562.3,748.4L561.2,756.0L558.6,761.1L560.1,766.1L562.3,771.2L564.9,773.7L574.2,774.2L575.7,775.2M575.7,776.8L575.7,788.4M578.7,625.9L587.3,622.3L591.8,625.9L597.7,622.8L604.1,611.7L611.5,608.1L614.5,611.7M597.7,622.8L604.1,630.9L612.3,639.5L616.7,649.2L624.6,649.2L627.9,640.0M613.7,682.1L614.9,672.4L616.7,663.3M824.7,333.2L825.1,345.8L818.0,350.4L811.6,358.5L799.0,365.1L799.0,372.2M782.2,370.1L799.0,370.1M799.0,372.2L799.0,379.2L786.7,378.7L786.7,391.4L782.9,402.5L768.0,402.5M813.5,383.8L807.2,384.3L809.4,401.5L810.9,427.4L810.9,431.9L788.5,432.4L785.9,436.0L785.6,436.0L778.1,426.3L770.3,428.4M799.0,372.2L813.5,383.8L835.9,404.1L843.3,413.7L847.1,413.2L853.0,412.2L859.4,405.1L875.8,391.4M863.5,323.5L862.0,332.1L859.4,337.2L862.0,339.2L865.7,345.8L866.8,357.0L869.4,357.5M874.3,342.8L869.4,357.5L867.9,364.1L867.9,375.2L869.0,382.3L875.8,386.3L875.8,391.4M924.6,350.4L924.6,399.0L924.6,409.1L920.8,409.1L920.8,411.7L890.7,391.9L883.6,396.5L875.8,391.4M924.6,399.0L948.1,399.0L968.9,399.0M768.0,435.5L769.2,441.5L775.5,442.0L769.2,444.1M769.2,447.6L780.3,446.6L786.7,447.6L788.9,447.6L785.9,436.0M775.1,454.7L780.3,449.1L780.3,446.6M782.2,464.8L789.7,460.3L793.0,467.4L791.9,475.0L788.9,475.5M793.0,467.4L800.8,472.4L803.1,482.5L803.1,488.1M788.9,447.6L799.3,452.7L800.5,459.3L802.0,458.2L808.3,457.2L810.9,457.7L813.9,461.3L821.3,462.3L822.1,468.9L819.5,479.0L821.0,485.1M810.9,431.9L814.6,433.9L819.1,441.0L829.9,434.4L835.1,434.4L844.8,431.4L847.1,424.8L847.1,413.2M810.9,457.7L812.8,454.7L821.0,454.7L831.0,454.2L834.8,454.7L839.6,446.6L835.1,443.0L835.1,434.4M831.0,454.2L832.5,458.2L834.0,467.9L835.9,479.5M834.8,454.7L837.4,464.8L837.4,479.0M839.6,446.6L844.8,451.2L841.8,464.3L841.5,478.5M844.8,451.2L847.4,441.0L851.9,440.0L857.1,444.1L863.8,445.1L869.8,442.5L877.2,443.0L882.1,441.0L884.7,447.6L885.8,452.2L883.6,459.8L880.6,467.4L877.2,467.9L874.3,477.0L871.7,477.0L867.9,480.0L863.5,486.6M877.2,443.0L881.3,437.0L889.2,409.1L890.7,391.9M884.7,447.6L888.1,453.7L889.2,460.3L886.9,462.8L891.0,472.4L900.3,465.3L905.9,464.8L911.9,457.2L916.4,454.7L916.7,447.6L914.9,444.1L913.8,440.5L916.4,436.0L920.5,431.4L920.8,411.7M886.9,462.8L885.4,479.0L887.7,489.1L891.0,498.8M891.0,498.8L891.4,494.2L900.3,492.2L905.2,485.1L914.9,489.6L922.3,484.6L929.8,484.1L933.5,484.6M916.4,454.7L919.4,464.8L924.6,472.4L933.5,484.6M916.7,447.6L920.8,447.1L925.3,457.7L932.0,461.8L943.2,458.2L948.8,460.8L955.1,458.2L958.5,462.3L956.3,467.9L961.1,477.0L965.2,487.1L961.8,488.1L956.3,491.2M933.5,484.6L941.3,487.1L946.2,492.7L956.3,491.2M968.9,399.0L969.3,419.2L974.5,419.2L975.3,423.8L967.4,438.0L966.7,441.5L965.6,446.1L963.0,449.6L958.5,462.3M967.4,438.0L971.2,438.5L974.5,437.5L977.5,436.5L983.8,439.0L989.4,447.1L992.8,447.1M987.2,454.7L990.5,454.7L992.8,451.2M990.9,455.2L995.4,464.8L1009.6,469.9L999.1,485.1L991.7,489.1L987.9,490.1L984.6,490.7L983.5,498.8L984.2,515.0L986.4,518.5M965.2,487.1L973.0,492.2L978.6,492.7L984.6,490.7M957.7,489.1L959.6,495.2L961.8,502.8L958.5,508.9L958.1,515.5L971.5,525.6L977.5,534.2M946.2,492.7L943.2,502.8L941.7,512.9L941.7,517.5L944.7,516.0L946.2,515.5L958.1,515.5M941.7,517.5L939.5,524.6L940.2,533.2L944.7,531.2L945.4,527.6L944.7,522.6L946.2,515.5M940.2,533.2L941.0,540.3L945.1,551.9L954.0,558.0L957.0,566.1L956.3,573.7L953.3,579.3L944.0,583.8L944.0,589.4L938.7,591.4L935.0,596.0L929.8,600.5L925.3,600.5M945.1,551.9L939.1,553.4L937.2,557.5L938.4,564.6L937.6,569.6L939.5,578.3L941.7,572.2L933.9,571.2L928.3,566.1L920.8,566.1L920.8,576.2L913.4,576.2L913.4,591.4L919.0,601.0M954.0,558.0L956.3,563.6L960.4,568.6L963.0,568.6L971.2,569.1L982.0,563.6M960.4,568.6L960.4,578.8L962.6,583.8L964.8,591.4L962.6,597.0L959.2,594.0L955.1,581.3L953.3,579.3M944.0,589.4L944.7,590.4L954.0,595.0L953.6,606.6L952.5,616.7L948.1,623.8L950.7,634.5L950.7,644.6L954.0,646.6M925.3,600.5L928.3,609.1L935.8,619.3L941.0,622.3L948.1,623.8M919.0,601.0L905.9,601.6L905.9,621.8L905.9,636.0L905.9,654.2L900.3,655.7L892.9,655.2M875.4,598.0L881.3,596.5L900.3,598.5L905.9,601.6L919.0,601.0L925.3,600.5M905.9,636.0L909.7,639.5L916.4,640.0L922.7,639.5L927.9,635.5L931.7,629.9L935.8,625.9L941.0,622.3M932.0,660.3L935.8,656.2L940.6,659.3L940.2,662.3L935.8,665.4L932.0,660.3M946.9,641.1L950.7,641.6L951.0,646.1L948.1,648.6L946.2,644.6L946.9,641.1M876.9,539.8L879.9,540.3L892.5,540.3L893.3,547.9L903.7,550.9L912.6,547.4L913.4,559.5L920.8,566.1M876.1,535.7L879.1,532.7L883.6,532.7L890.7,530.1L893.3,520.0L896.6,513.4L897.7,505.3L900.3,492.2M872.8,530.1L875.4,523.1L885.1,520.5L884.7,512.9L883.2,503.8L885.1,498.8L891.0,498.8M867.9,498.8L873.5,498.8L873.5,505.3L866.1,505.3M873.5,498.8L881.0,499.3L885.1,498.8M952.2,351.9L958.9,351.9L961.5,361.0M824.7,290.6L829.5,293.7L837.0,294.7L843.3,295.7M798.2,298.2L800.8,297.2L807.2,298.2L808.3,299.7L805.3,306.8L805.3,312.9L803.8,317.0L803.4,322.0M840.7,251.6L847.1,257.7L853.0,259.7L855.3,260.2L862.0,262.3L859.7,269.4L857.1,269.9L853.8,276.4L857.5,278.0L857.5,286.6L859.4,288.6M844.1,250.1L850.0,250.1L854.1,253.1L855.3,258.2L853.0,259.7M857.5,239.5L857.9,246.1L853.8,248.1L854.1,253.1M863.5,232.4L868.3,232.9M884.3,237.5L885.8,247.1L887.3,251.6L892.5,254.2L901.5,259.7L905.6,261.3L915.6,261.8L920.8,254.2L919.0,246.6L919.0,239.5L916.4,234.9L904.4,234.9M887.3,251.6L884.7,252.1L876.9,255.7L882.8,262.3L879.9,265.8L879.9,269.9L870.5,270.4L867.2,269.9L863.5,268.8L859.7,269.4M882.8,262.3L887.3,262.3L894.4,264.3L901.5,259.7M894.4,264.3L895.1,267.3L892.9,269.9L891.0,273.9L885.8,275.4L882.5,274.9L876.9,272.4L870.5,272.9L867.2,269.9M895.1,267.3L901.5,268.3L907.1,265.8L913.8,265.3L915.6,261.8M853.8,276.4L857.5,278.0L862.7,275.9L864.9,278.5L870.5,274.9L870.5,272.9M882.5,274.9L882.1,280.0M891.0,273.9L893.3,274.9L898.5,278.5L902.2,278.0L903.7,281.5L902.6,285.6L903.7,292.1L900.3,295.2M893.3,274.9L888.8,278.5L889.5,280.5L882.1,280.0M889.9,281.5L892.9,281.5L902.2,283.0L903.7,286.1L902.6,291.1L897.0,292.6L892.9,287.6L889.9,281.5M913.8,265.3L918.6,267.8L930.5,265.8L934.3,270.4L936.5,277.5L936.5,280.0L941.7,280.5M907.1,265.8L909.7,276.4L906.7,276.9L902.2,278.0M909.7,276.4L916.0,282.5L915.3,286.1L916.7,288.6L926.8,289.1L932.0,287.1L938.0,288.6M915.3,286.1L916.7,291.6L914.9,296.2L917.1,301.3L924.6,301.3L928.7,299.2L935.8,297.7M914.9,296.2L909.7,296.7L906.3,295.2L903.0,290.1M906.3,295.2L908.2,302.3L909.3,305.8L906.7,309.9M908.2,302.3L916.7,301.3L917.1,301.3M928.7,299.2L929.8,303.3L928.3,304.8M919.0,239.5L920.8,237.5L926.4,235.4L930.5,228.3L936.5,225.8L934.6,220.2L933.5,217.7L935.8,209.1M916.4,234.9L910.0,228.3M910.0,226.3L920.8,225.3L930.5,228.3M911.9,219.7L922.0,217.7L926.8,217.2L933.5,217.7M919.0,246.6L924.6,247.6L945.1,249.1L949.9,246.6L957.0,245.6L961.8,251.1L965.6,255.2L973.0,257.7L980.5,259.2L980.5,266.3L979.4,270.9L974.1,271.9M920.8,254.2L920.8,247.6M930.5,265.8L936.5,266.8L940.2,270.4L942.5,275.4L939.1,274.9L936.5,277.5M941.7,280.5L943.2,278.5L942.5,275.4M936.5,225.8L946.6,228.8L946.9,236.9L953.3,240.5L949.9,246.6M935.8,209.1L936.9,204.0L942.5,200.0L948.8,191.9L943.2,186.3L941.7,179.7L943.2,176.2L939.5,168.6L938.0,161.5L936.5,158.5L941.3,156.4L946.6,157.9M936.5,158.5L927.6,162.5L920.8,163.0L909.7,161.0M920.5,177.2L919.7,173.1L919.0,166.6L909.7,161.0L905.9,163.5L898.5,163.5L894.8,165.5L891.0,170.1L885.1,177.2L883.6,184.3L878.0,186.8L876.1,196.4L878.0,201.5L877.2,206.6L874.3,209.6L873.1,211.1M928.3,299.2L932.0,297.2L935.8,297.7M965.2,328.6L967.8,324.0L973.8,323.5L982.3,322.5L989.4,322.5L998.4,322.0L996.1,318.0L998.4,309.9L994.3,307.3L993.5,302.3L989.8,300.8L986.1,300.2M965.2,332.1L967.1,335.2L968.6,343.3L964.8,344.8L964.1,341.8L962.2,342.8M964.1,341.8L963.7,350.9L963.7,361.0L961.5,361.0M964.8,344.8L969.3,348.4L976.8,348.4L977.9,345.8L976.0,341.3L984.2,336.2L985.3,328.1L989.4,322.5M976.8,348.4L969.3,350.9L973.0,355.9L971.2,361.0L967.4,361.0L961.8,361.5M977.9,345.8L984.2,348.4L998.0,362.5L1004.7,363.0L1008.4,363.5L1010.3,361.0M998.4,322.0L1001.0,329.1L1003.6,335.7L1001.0,338.2L1002.8,343.3L1008.4,345.8L1010.3,353.4L1010.3,358.5M1004.7,363.0L998.0,362.5L991.7,363.5M991.7,363.5L984.2,363.5M991.7,425.3L995.4,422.3L1004.7,422.8L1008.4,415.7L1014.0,416.2L1024.8,414.7L1025.9,416.7L1029.3,426.3M1024.8,414.7L1036.4,409.1L1038.6,399.0L1037.1,395.4L1027.4,394.4L1023.7,387.9M1037.1,395.4L1040.1,387.9L1041.6,384.3M1021.8,386.3L1023.7,387.9M998.4,309.9L1002.8,313.4L1009.6,309.9L1011.8,315.9L1014.0,315.9M986.1,300.2L991.7,301.3L999.1,301.8L1004.7,302.8L1002.8,297.7L997.3,294.2L991.7,291.1L987.9,290.6L980.5,290.6M998.4,309.9L1001.0,312.9L1004.7,313.4L1003.6,309.9L1001.0,303.8L999.1,301.8M1004.7,302.8L1010.3,300.2L1012.5,298.7M996.1,318.0L998.4,309.9M1013.7,315.9L1014.0,318.0L1011.4,320.5L1002.8,313.4M1032.3,321.5L1038.2,318.0L1045.0,317.5L1051.3,320.5L1056.9,324.0L1059.5,325.1L1058.7,330.1L1056.9,339.7L1058.4,343.8L1058.0,350.9L1061.7,354.4L1058.4,359.5L1064.3,361.5L1068.4,361.0L1078.5,359.0L1078.9,353.9L1088.2,350.4L1089.7,348.9L1094.2,338.7L1096.8,335.2L1097.9,329.6L1109.1,323.0M1058.4,359.5L1061.7,366.1L1065.5,367.6L1067.3,375.2L1062.1,377.7L1061.0,382.8M1059.5,325.1L1064.3,331.6L1071.8,326.6L1079.2,321.0L1084.8,323.0L1089.7,322.5L1094.5,316.4L1097.9,323.0L1102.0,323.0L1109.1,323.0L1111.7,321.0M1028.9,297.2L1038.2,301.3L1040.1,301.3L1047.6,295.2L1055.0,296.7L1059.9,301.8L1064.3,307.8L1071.8,313.4L1079.2,321.0M1038.2,301.3L1040.1,282.5L1049.4,280.0L1056.9,285.1L1062.5,290.1L1073.3,289.1L1077.8,292.6L1077.4,297.7L1084.8,302.8L1088.6,300.8L1096.0,296.2L1105.3,294.7L1109.1,292.6L1124.0,293.7L1130.7,297.2L1129.9,293.7L1132.5,291.6L1129.6,283.0L1136.6,281.0L1138.9,277.5L1141.1,271.4L1148.9,272.4L1150.8,264.8L1156.8,261.3M1084.8,302.8L1087.1,304.8L1094.5,302.3L1099.0,300.8L1103.5,303.8L1100.9,307.8L1096.0,306.8L1090.4,306.8L1086.7,310.4L1085.2,318.0L1084.8,323.0M1105.3,294.7L1104.2,299.2L1099.0,300.8M1109.1,323.0L1110.2,315.4L1106.1,310.9L1106.8,307.8L1112.8,304.8L1117.6,302.8L1124.0,299.7L1130.7,297.2M1100.9,307.8L1106.1,310.9M1018.5,277.5L1019.6,267.3L1010.3,268.3L1006.6,261.3L1005.8,257.2L1012.2,254.2L1017.8,249.6L1023.3,250.6L1030.8,250.1L1036.4,253.1L1042.0,252.1L1048.7,252.6L1053.2,254.2L1058.7,252.1L1056.9,247.1L1058.7,242.0L1062.5,237.5L1073.7,233.9L1081.1,231.9L1088.6,229.9L1096.0,230.9L1105.3,237.5L1110.9,238.5L1116.5,238.0L1122.1,244.0L1129.6,250.1L1135.2,252.1L1140.7,252.6L1148.2,256.2L1151.9,258.7L1156.8,261.3M1156.8,261.3L1163.1,259.2L1168.7,255.2L1176.1,253.1L1182.5,254.7L1191.1,257.7L1196.6,255.2L1197.4,247.1L1204.1,248.6L1211.6,250.6L1217.1,255.7L1222.7,255.2L1232.1,258.2L1235.8,260.7L1243.2,261.3L1248.8,259.7L1256.3,255.7L1261.9,257.7L1266.3,257.7M1156.8,261.3L1159.4,264.8L1166.8,268.3L1170.6,274.9L1169.8,281.5L1178.0,283.0L1187.3,286.6L1191.1,293.7L1206.0,294.7L1220.9,298.7L1230.2,295.7L1241.4,294.7L1248.1,289.1L1247.0,284.5L1252.6,283.5L1263.7,279.0L1271.2,273.4L1277.5,273.9L1276.8,268.8L1269.3,268.8L1266.3,257.7M1266.3,257.7L1270.4,259.7L1276.0,255.7L1278.6,249.1L1284.2,244.0L1289.8,239.5L1299.1,242.0L1304.7,248.1L1306.6,255.7L1315.9,262.8L1319.6,268.8L1327.1,267.3L1333.4,265.8L1330.8,271.4L1328.2,282.5L1323.0,281.5L1319.6,283.5L1320.8,292.6L1318.5,296.2M1318.5,296.2L1315.9,293.2L1310.3,297.7L1304.4,299.2L1301.0,303.3L1295.0,308.3M1296.5,318.0L1303.6,318.5L1306.6,316.4L1309.9,314.9M1109.1,323.0L1112.8,323.5L1121.4,330.6L1125.1,336.7L1124.0,345.3L1125.8,351.9L1133.3,357.5L1137.0,358.5L1144.5,362.0L1151.9,368.6L1159.7,369.1L1162.7,372.2L1166.1,367.6L1173.2,369.6L1174.7,374.7L1181.7,370.6L1187.3,367.1L1194.0,367.6L1198.5,371.1L1199.3,379.2L1195.5,384.8L1199.6,388.4L1202.2,394.4L1208.6,401.5L1210.4,396.5L1215.3,396.0L1220.9,394.9L1229.1,394.9L1233.5,401.0M1130.3,357.0L1133.3,366.6L1141.9,372.2L1148.2,375.7L1153.8,376.2L1159.7,376.7L1159.7,369.1M1159.7,376.7L1165.0,378.7L1174.3,382.8L1175.8,388.9L1172.8,394.4L1175.0,403.5M1159.7,376.7L1162.0,387.9L1163.1,398.5M1174.3,382.8L1184.0,383.3L1182.5,390.9L1179.1,399.5L1176.5,402.5M1181.7,370.6L1186.6,375.7L1184.0,383.3M1109.1,323.0L1112.4,329.1L1119.5,330.6M1096.8,335.2L1106.5,335.7L1113.5,345.8L1109.1,353.4L1106.8,358.5L1099.7,368.6L1094.2,368.6L1090.4,375.7L1093.0,382.8L1096.0,386.8L1086.7,389.9M1199.3,379.2L1197.4,388.4M1195.5,384.8L1194.8,399.0L1199.6,401.5L1204.5,407.1L1206.0,411.7L1208.6,411.7L1214.5,419.8L1217.1,416.7L1221.6,422.3L1225.0,429.9L1224.6,437.5L1215.3,438.0L1213.8,448.6M1204.5,407.1L1208.6,401.5M1199.6,401.5L1198.5,410.6L1195.9,416.7L1194.4,424.8L1198.9,432.4L1200.7,440.0L1202.2,453.7L1199.3,459.8M1220.9,394.9L1218.6,406.6L1221.2,411.1L1222.7,419.2L1228.3,426.8L1232.1,431.9L1232.1,439.5L1228.3,450.1L1224.6,452.2L1220.5,457.7M1224.6,437.5L1232.1,439.5M1204.5,478.0L1208.2,481.5L1211.9,479.0M1216.8,503.3L1220.1,503.8M1356.9,523.6L1356.9,556.5M1258.5,490.1L1263.4,488.6L1270.8,489.6L1267.5,495.2L1265.6,502.8L1261.9,504.3L1257.4,502.8L1251.8,502.8L1245.1,505.3L1240.3,502.3L1239.9,500.3M1293.5,558.5L1297.6,558.0" fill="none" stroke="#7e8083" stroke-width="1.35" stroke-linejoin="round"/><path d="M935.8,299.7L934.3,295.2L935.8,291.1L938.0,288.1L938.4,284.0L941.7,280.5L944.3,277.5L946.2,274.9L949.5,274.4L952.9,276.4L956.6,278.0L952.9,280.5L956.3,284.5L960.4,283.5L963.7,282.5L967.4,281.0L963.7,280.5L961.8,279.0L962.6,275.9L965.6,274.4L969.3,272.9L973.8,271.9L977.5,271.4L974.9,274.4L973.0,276.4L971.5,279.0L970.4,281.0L968.9,282.0L970.8,283.5L974.1,285.6L976.8,287.6L979.7,290.1L983.8,293.2L986.4,296.7L986.4,299.7L982.3,302.8L978.2,302.8L973.8,303.3L969.3,301.8L966.7,299.7L962.6,297.7L958.1,297.7L954.4,298.2L950.7,299.2L946.9,302.3L943.2,301.8L939.9,301.8ZM1014.0,274.9L1010.3,278.0L1008.1,279.5L1005.8,283.0L1005.5,285.6L1007.7,289.6L1008.4,293.2L1011.4,297.7L1013.7,301.3L1016.3,304.8L1018.9,306.3L1015.9,307.3L1015.1,311.4L1013.7,315.9L1013.7,320.0L1015.9,321.0L1018.9,322.5L1022.2,324.6L1027.1,324.6L1032.3,323.5L1032.7,320.0L1031.9,315.4L1029.7,311.9L1030.8,308.9L1028.9,307.8L1028.2,303.8L1028.6,299.7L1027.4,296.2L1023.7,292.1L1022.6,289.1L1020.7,286.6L1022.6,284.5L1021.5,282.5L1027.4,280.5L1029.3,278.0L1028.9,273.9L1024.5,271.9L1019.6,272.9L1016.6,274.4Z" fill="#fff" stroke="#7e8083" stroke-width="1.35"/><g fill="#9d9fa2" stroke="#7e8083" stroke-width="1.1"><circle cx="590.3" cy="417.2" r="1.2"/><circle cx="596.2" cy="418.2" r="1"/><circle cx="597.7" cy="422.8" r="1"/><circle cx="601.1" cy="423.8" r="1.2"/><circle cx="602.2" cy="428.4" r="1.6"/><circle cx="602.6" cy="432.4" r="1.2"/><circle cx="604.1" cy="436.5" r="1.4"/><circle cx="604.1" cy="440.0" r="1.1"/><circle cx="603.3" cy="443.6" r="1"/><circle cx="601.4" cy="449.1" r="1"/><circle cx="609.6" cy="444.1" r="1.1"/><circle cx="605.2" cy="453.7" r="1"/><circle cx="570.5" cy="447.1" r="1"/><circle cx="574.2" cy="448.6" r="1.1"/><circle cx="576.8" cy="448.6" r="1"/><circle cx="592.9" cy="454.7" r="1.3"/><circle cx="542.9" cy="383.8" r="1"/><circle cx="547.4" cy="384.8" r="1.2"/><circle cx="548.9" cy="391.4" r="1"/><circle cx="553.7" cy="388.9" r="1"/><circle cx="557.5" cy="397.0" r="1"/><circle cx="563.1" cy="400.0" r="1"/><circle cx="535.8" cy="380.8" r="0.9"/><circle cx="541.4" cy="375.7" r="1.1"/><circle cx="527.3" cy="385.8" r="0.8"/><circle cx="530.3" cy="384.8" r="0.8"/><circle cx="589.9" cy="346.8" r="0.9"/><circle cx="531.7" cy="412.7" r="0.9"/><circle cx="533.6" cy="410.6" r="0.8"/><circle cx="1375.5" cy="288.6" r="1.1"/><circle cx="1381.1" cy="283.5" r="1.2"/><circle cx="1386.0" cy="280.0" r="1"/><circle cx="1392.3" cy="276.4" r="1.1"/><circle cx="1397.9" cy="271.9" r="1"/><circle cx="1403.5" cy="266.8" r="1"/><circle cx="1408.3" cy="261.3" r="1"/><circle cx="1410.9" cy="257.2" r="1.1"/><circle cx="1413.6" cy="253.7" r="1.1"/><circle cx="1450.1" cy="230.9" r="1.3"/><circle cx="1455.7" cy="233.4" r="1.1"/><circle cx="1474.3" cy="242.5" r="1.1"/><circle cx="1478.0" cy="243.0" r="1.1"/><circle cx="1492.9" cy="247.6" r="1.1"/><circle cx="1498.5" cy="249.1" r="1.0"/><circle cx="196.7" cy="221.2" r="1"/><circle cx="187.4" cy="204.5" r="1.2"/><circle cx="198.6" cy="189.8" r="1.4"/><circle cx="203.4" cy="188.8" r="1.4"/><circle cx="1374.4" cy="433.4" r="1"/><circle cx="1371.1" cy="442.0" r="1.1"/><circle cx="1332.7" cy="472.4" r="1"/><circle cx="1346.1" cy="462.3" r="0.8"/><circle cx="1397.2" cy="472.9" r="0.8"/><circle cx="1421.0" cy="475.5" r="0.9"/><circle cx="1438.9" cy="483.6" r="0.8"/><circle cx="1469.5" cy="474.4" r="0.8"/><circle cx="1460.1" cy="473.4" r="0.8"/><circle cx="1476.2" cy="503.3" r="0.8"/><circle cx="244.8" cy="500.8" r="0.8"/><circle cx="190.0" cy="579.3" r="1.1"/><circle cx="191.5" cy="581.3" r="1"/><circle cx="178.4" cy="617.8" r="1"/><circle cx="180.7" cy="604.6" r="0.8"/><circle cx="235.8" cy="617.8" r="0.9"/><circle cx="274.6" cy="600.0" r="1.1"/><circle cx="309.6" cy="556.0" r="1"/><circle cx="313.3" cy="560.0" r="0.8"/><circle cx="423.7" cy="647.6" r="0.9"/><circle cx="537.3" cy="680.6" r="0.8"/><circle cx="1457.5" cy="657.3" r="0.8"/><circle cx="1424.4" cy="669.9" r="0.7"/><circle cx="173.6" cy="733.2" r="1.2"/><circle cx="1423.6" cy="786.9" r="0.8"/><circle cx="1450.5" cy="767.1" r="1.1"/><circle cx="1461.6" cy="776.3" r="0.9"/><circle cx="1496.3" cy="600.5" r="0.8"/><circle cx="168.0" cy="582.8" r="0.8"/><circle cx="266.8" cy="594.0" r="0.8"/><circle cx="291.0" cy="588.9" r="0.7"/><circle cx="315.2" cy="624.3" r="0.7"/><circle cx="235.1" cy="601.6" r="0.7"/><circle cx="223.9" cy="566.1" r="0.6"/><circle cx="212.7" cy="559.5" r="0.6"/><circle cx="1429.6" cy="558.5" r="1.0"/><circle cx="1435.2" cy="563.6" r="0.9"/><circle cx="1453.4" cy="569.1" r="0.8"/><circle cx="1456.8" cy="578.8" r="0.8"/><circle cx="1458.3" cy="592.9" r="0.9"/><circle cx="1462.4" cy="607.6" r="0.9"/><circle cx="1454.6" cy="616.2" r="0.9"/><circle cx="251.5" cy="405.6" r="0.8"/><circle cx="246.3" cy="403.5" r="0.9"/><circle cx="234.3" cy="399.5" r="0.8"/><circle cx="210.9" cy="389.9" r="0.6"/><circle cx="191.5" cy="383.8" r="0.6"/><circle cx="170.2" cy="367.6" r="0.6"/><circle cx="1294.3" cy="386.8" r="1"/><circle cx="1298.4" cy="384.8" r="0.8"/><circle cx="1307.7" cy="377.2" r="1.2"/><circle cx="1310.3" cy="371.6" r="1"/><circle cx="1314.0" cy="367.1" r="1"/><circle cx="1317.8" cy="356.5" r="1.1"/><circle cx="1351.3" cy="337.7" r="0.9"/><circle cx="1352.4" cy="342.8" r="0.8"/><circle cx="1361.4" cy="373.2" r="0.8"/><circle cx="1284.2" cy="407.6" r="0.9"/><circle cx="1286.1" cy="414.2" r="0.9"/><circle cx="1276.8" cy="390.9" r="0.8"/><circle cx="1105.3" cy="490.1" r="0.8"/><circle cx="1105.0" cy="500.3" r="0.8"/><circle cx="1103.8" cy="477.5" r="0.8"/><circle cx="1101.2" cy="547.4" r="0.8"/><circle cx="1038.2" cy="533.7" r="0.7"/><circle cx="1181.0" cy="472.4" r="0.9"/><circle cx="1177.3" cy="463.8" r="0.8"/><circle cx="1102.4" cy="457.2" r="0.8"/><circle cx="1023.3" cy="745.4" r="0.9"/><circle cx="972.3" cy="747.9" r="0.8"/><circle cx="1105.3" cy="779.3" r="1"/><circle cx="1120.2" cy="706.4" r="0.6"/><circle cx="1004.0" cy="558.0" r="0.7"/><circle cx="768.0" cy="344.8" r="1"/><circle cx="805.7" cy="196.4" r="1.3"/><circle cx="826.6" cy="205.0" r="1.2"/><circle cx="820.2" cy="211.6" r="1.1"/><circle cx="804.6" cy="219.2" r="1.3"/><circle cx="807.9" cy="215.7" r="1.2"/><circle cx="856.0" cy="508.9" r="1"/><circle cx="859.0" cy="502.3" r="0.7"/><circle cx="777.7" cy="550.4" r="0.7"/><circle cx="810.2" cy="590.9" r="0.7"/><circle cx="732.6" cy="802.6" r="0.8"/><circle cx="661.8" cy="817.3" r="1.2"/><circle cx="722.2" cy="505.8" r="0.6"/><circle cx="710.6" cy="530.1" r="0.7"/><circle cx="724.4" cy="614.2" r="0.6"/><circle cx="742.0" cy="429.4" r="0.9"/><circle cx="746.1" cy="428.9" r="0.9"/><circle cx="770.3" cy="367.1" r="1"/><circle cx="780.7" cy="363.5" r="1"/><circle cx="779.2" cy="366.6" r="1"/><circle cx="764.7" cy="365.1" r="0.8"/><circle cx="715.1" cy="310.4" r="0.8"/><circle cx="730.0" cy="314.4" r="0.9"/><circle cx="842.6" cy="308.3" r="0.9"/><circle cx="836.6" cy="313.4" r="0.8"/><circle cx="847.1" cy="307.8" r="0.8"/><circle cx="885.1" cy="328.6" r="0.7"/><circle cx="924.9" cy="323.0" r="0.9"/><circle cx="928.3" cy="315.9" r="1.0"/><circle cx="930.2" cy="311.9" r="1.1"/><circle cx="926.1" cy="326.1" r="0.8"/><circle cx="921.6" cy="314.9" r="1.2"/><circle cx="908.2" cy="315.9" r="1.0"/><circle cx="905.6" cy="309.9" r="1.0"/><circle cx="917.1" cy="327.1" r="0.8"/><circle cx="932.8" cy="325.6" r="0.8"/><circle cx="935.8" cy="326.6" r="1.0"/><circle cx="916.4" cy="312.9" r="0.7"/><circle cx="892.2" cy="291.6" r="0.8"/><circle cx="886.6" cy="284.0" r="0.8"/><circle cx="613.4" cy="825.4" r="1.2"/><circle cx="607.8" cy="827.9" r="1.0"/><circle cx="619.0" cy="832.0" r="0.8"/></g><path d="M226,230.6 L219,233.6 L215,235.6 M212,236.8 L206,239.7 L203,241.6 M200.5,242.6 L197.5,243.6 M194.5,244.3 L193,244.8 M189.5,245.4 L188,245.9 M186,245.9 L178,247.4 M176,247.6 L167.5,248.8" fill="none" stroke="#7e8083" stroke-width="2.6" stroke-linecap="round"/><circle cx="354.2" cy="249.3" r="9.25" fill="#5a3486"/><circle cx="481.9" cy="268.7" r="7.75" fill="#5a3486"/><circle cx="368.1" cy="306.2" r="9.85" fill="#5a3486"/><circle cx="390.1" cy="337.8" r="8.8" fill="#5a3486"/><circle cx="468.2" cy="333.4" r="8.95" fill="#5a3486"/><circle cx="482.5" cy="333.6" r="15.5" fill="#5a3486"/><circle cx="537.2" cy="328.9" r="13.1" fill="#5a3486"/><circle cx="548.6" cy="328.9" r="13.0" fill="#5a3486"/><circle cx="532.5" cy="376.3" r="13.35" fill="#5a3486"/><circle cx="574.7" cy="408.1" r="12.7" fill="#5a3486"/><circle cx="687.3" cy="574.9" r="11.7" fill="#5a3486"/><circle cx="854.4" cy="249.7" r="13.0" fill="#5a3486"/><circle cx="1150.2" cy="345.4" r="20.95" fill="#5a3486"/><circle cx="1172.5" cy="357.8" r="11.5" fill="#5a3486"/><circle cx="1192.9" cy="326.7" r="15.7" fill="#5a3486"/><circle cx="1206.4" cy="329" r="13.8" fill="#5a3486"/><circle cx="1204" cy="362.9" r="11.0" fill="#5a3486"/><circle cx="1213.7" cy="385.4" r="8.5" fill="#5a3486"/><circle cx="1218" cy="345" r="13.0" fill="#5a3486"/><circle cx="1226.9" cy="314.3" r="10.0" fill="#5a3486"/><circle cx="1229.5" cy="401.2" r="7.5" fill="#5a3486"/><circle cx="1288.1" cy="242.5" r="8.7" fill="#5a3486"/><circle cx="1269.9" cy="260.9" r="7.9" fill="#5a3486"/><circle cx="1291.4" cy="268.2" r="9.0" fill="#5a3486"/><circle cx="1336.2" cy="266.2" r="7.0" fill="#5a3486"/><circle cx="1286.1" cy="280" r="7.0" fill="#5a3486"/><circle cx="1265.7" cy="286.6" r="7.5" fill="#5a3486"/><circle cx="1300.6" cy="316.9" r="8.0" fill="#5a3486"/><circle cx="1292" cy="357" r="8.0" fill="#5a3486"/><circle cx="1384.5" cy="336.1" r="15.15" fill="#5a3486"/><circle cx="1106.8" cy="432.9" r="16.75" fill="#5a3486"/><circle cx="1117.2" cy="467.7" r="13.9" fill="#5a3486"/><circle cx="1035.6" cy="498.6" r="14.15" fill="#5a3486"/><circle cx="1486.4" cy="704.2" r="16.25" fill="#5a3486"/><circle cx="1388" cy="693" r="9.15" fill="#5a3486"/><circle cx="1368" cy="724" r="6.0" fill="#5a3486"/><circle cx="242.5" cy="401.5" r="24.0" fill="#cb8545"/><circle cx="242.5" cy="401.5" r="12.0" fill="#d28946"/><circle cx="386.5" cy="275.5" r="18.5" fill="#cb8545"/><circle cx="386.5" cy="275.5" r="9.2" fill="#d28946"/><circle cx="392.5" cy="271" r="16.5" fill="#cb8545"/><circle cx="392.5" cy="271" r="8.2" fill="#d28946"/><circle cx="429.8" cy="256" r="11.8" fill="#cb8545"/><circle cx="429.8" cy="256" r="5.9" fill="#d28946"/><circle cx="495.6" cy="284.4" r="20.35" fill="#cb8545"/><circle cx="495.6" cy="284.4" r="10.2" fill="#d28946"/><circle cx="547.4" cy="295.9" r="11.1" fill="#cb8545"/><circle cx="547.4" cy="295.9" r="5.5" fill="#d28946"/><circle cx="414.8" cy="299.1" r="16.85" fill="#cb8545"/><circle cx="414.8" cy="299.1" r="8.4" fill="#d28946"/><circle cx="377.6" cy="315.5" r="17.0" fill="#cb8545"/><circle cx="377.6" cy="315.5" r="8.5" fill="#d28946"/><circle cx="500.3" cy="330.4" r="15.5" fill="#cb8545"/><circle cx="500.3" cy="330.4" r="7.8" fill="#d28946"/><circle cx="423.1" cy="372.9" r="15.95" fill="#cb8545"/><circle cx="423.1" cy="372.9" r="8.0" fill="#d28946"/><circle cx="636.5" cy="403" r="19.05" fill="#cb8545"/><circle cx="636.5" cy="403" r="9.5" fill="#d28946"/><circle cx="635.3" cy="484.8" r="15.5" fill="#cb8545"/><circle cx="635.3" cy="484.8" r="7.8" fill="#d28946"/><circle cx="637" cy="617.5" r="20.9" fill="#cb8545"/><circle cx="637" cy="617.5" r="10.4" fill="#d28946"/><circle cx="875" cy="249.7" r="17.75" fill="#cb8545"/><circle cx="875" cy="249.7" r="8.9" fill="#d28946"/><circle cx="881.5" cy="229.9" r="16.35" fill="#cb8545"/><circle cx="881.5" cy="229.9" r="8.2" fill="#d28946"/><circle cx="862.3" cy="281.8" r="14.4" fill="#cb8545"/><circle cx="862.3" cy="281.8" r="7.2" fill="#d28946"/><circle cx="961.4" cy="348.4" r="18.35" fill="#cb8545"/><circle cx="961.4" cy="348.4" r="9.2" fill="#d28946"/><circle cx="931" cy="650.7" r="18.0" fill="#cb8545"/><circle cx="931" cy="650.7" r="9.0" fill="#d28946"/><circle cx="930.1" cy="639.5" r="20.5" fill="#cb8545"/><circle cx="930.1" cy="639.5" r="10.2" fill="#d28946"/><circle cx="1152" cy="287" r="15.8" fill="#cb8545"/><circle cx="1152" cy="287" r="7.9" fill="#d28946"/><circle cx="1125.7" cy="404" r="18.15" fill="#cb8545"/><circle cx="1125.7" cy="404" r="9.1" fill="#d28946"/><circle cx="1300.6" cy="272.1" r="15.0" fill="#cb8545"/><circle cx="1300.6" cy="272.1" r="7.5" fill="#d28946"/><circle cx="1324.3" cy="273.5" r="15.5" fill="#cb8545"/><circle cx="1324.3" cy="273.5" r="7.8" fill="#d28946"/><circle cx="1296.7" cy="291.9" r="16.5" fill="#cb8545"/><circle cx="1296.7" cy="291.9" r="8.2" fill="#d28946"/><circle cx="1270.3" cy="303.7" r="17.0" fill="#cb8545"/><circle cx="1270.3" cy="303.7" r="8.5" fill="#d28946"/><circle cx="1240.7" cy="301.8" r="17.25" fill="#cb8545"/><circle cx="1240.7" cy="301.8" r="8.6" fill="#d28946"/><circle cx="1282.2" cy="331.4" r="15.0" fill="#cb8545"/><circle cx="1282.2" cy="331.4" r="7.5" fill="#d28946"/><circle cx="1265.1" cy="330.1" r="16.5" fill="#cb8545"/><circle cx="1265.1" cy="330.1" r="8.2" fill="#d28946"/><circle cx="1233.5" cy="335.3" r="16.5" fill="#cb8545"/><circle cx="1233.5" cy="335.3" r="8.2" fill="#d28946"/><circle cx="1279.5" cy="378.8" r="17.0" fill="#cb8545"/><circle cx="1279.5" cy="378.8" r="8.5" fill="#d28946"/><circle cx="1265.1" cy="368.3" r="17.0" fill="#cb8545"/><circle cx="1265.1" cy="368.3" r="8.5" fill="#d28946"/><circle cx="1226.9" cy="366.3" r="16.8" fill="#cb8545"/><circle cx="1226.9" cy="366.3" r="8.4" fill="#d28946"/><circle cx="1246.6" cy="319.5" r="16.5" fill="#cb8545"/><circle cx="1246.6" cy="319.5" r="8.2" fill="#d28946"/><circle cx="1245.3" cy="348.5" r="16.5" fill="#cb8545"/><circle cx="1245.3" cy="348.5" r="8.2" fill="#d28946"/><circle cx="1282.2" cy="324.8" r="15.0" fill="#cb8545"/><circle cx="1282.2" cy="324.8" r="7.5" fill="#d28946"/><circle cx="1275.6" cy="356.4" r="15.0" fill="#cb8545"/><circle cx="1275.6" cy="356.4" r="7.5" fill="#d28946"/><circle cx="1253.2" cy="372.2" r="15.0" fill="#cb8545"/><circle cx="1253.2" cy="372.2" r="7.5" fill="#d28946"/><circle cx="1263.7" cy="315.6" r="15.0" fill="#cb8545"/><circle cx="1263.7" cy="315.6" r="7.5" fill="#d28946"/><circle cx="1282.2" cy="364.3" r="14.0" fill="#cb8545"/><circle cx="1282.2" cy="364.3" r="7.0" fill="#d28946"/><circle cx="1240" cy="388" r="16.0" fill="#cb8545"/><circle cx="1240" cy="388" r="8.0" fill="#d28946"/><circle cx="1274.3" cy="388" r="16.0" fill="#cb8545"/><circle cx="1274.3" cy="388" r="8.0" fill="#d28946"/><circle cx="1253.2" cy="392" r="16.5" fill="#cb8545"/><circle cx="1253.2" cy="392" r="8.2" fill="#d28946"/><circle cx="1239.4" cy="417" r="15.25" fill="#cb8545"/><circle cx="1239.4" cy="417" r="7.6" fill="#d28946"/><circle cx="1234.4" cy="642.2" r="20.15" fill="#cb8545"/><circle cx="1234.4" cy="642.2" r="10.1" fill="#d28946"/><circle cx="1256.6" cy="643" r="17.0" fill="#cb8545"/><circle cx="1256.6" cy="643" r="8.5" fill="#d28946"/><circle cx="1256" cy="655" r="15.0" fill="#cb8545"/><circle cx="1256" cy="655" r="7.5" fill="#d28946"/><circle cx="1274.6" cy="683.5" r="11.55" fill="#cb8545"/><circle cx="1274.6" cy="683.5" r="5.8" fill="#d28946"/><circle cx="1348.2" cy="685.7" r="15.0" fill="#cb8545"/><circle cx="1348.2" cy="685.7" r="7.5" fill="#d28946"/><circle cx="1362.1" cy="685.2" r="10.75" fill="#cb8545"/><circle cx="1362.1" cy="685.2" r="5.4" fill="#d28946"/><circle cx="1361" cy="698" r="10.0" fill="#cb8545"/><circle cx="1361" cy="698" r="5.0" fill="#d28946"/><circle cx="1375" cy="697" r="9.65" fill="#cb8545"/><circle cx="1375" cy="697" r="4.8" fill="#d28946"/><circle cx="1367.5" cy="711.5" r="11.25" fill="#cb8545"/><circle cx="1367.5" cy="711.5" r="5.6" fill="#d28946"/><circle cx="1380.4" cy="724.9" r="12.35" fill="#cb8545"/><circle cx="1380.4" cy="724.9" r="6.2" fill="#d28946"/><circle cx="1401.8" cy="649.7" r="11.45" fill="#cb8545"/><circle cx="1401.8" cy="649.7" r="5.7" fill="#d28946"/><circle cx="1389" cy="663.1" r="11.8" fill="#cb8545"/><circle cx="1389" cy="663.1" r="5.9" fill="#d28946"/><circle cx="1392.2" cy="681.4" r="12.2" fill="#cb8545"/><circle cx="1392.2" cy="681.4" r="6.1" fill="#d28946"/><text transform="translate(-0.36,16.60) scale(1.0,1.04)" font-size="29.5" font-weight="bold" fill="#000">a</text><text transform="translate(78.80,224.52) rotate(-90) scale(1.0,1.04)" font-size="29.5" fill="#000">LATITUDE</text><text transform="translate(0.02,269.00) scale(1.0,1.04)" font-size="29.5" fill="#000">50° N</text><text transform="translate(55.45,522.50) scale(1.0,1.04)" font-size="29.5" fill="#000">0°</text><text transform="translate(0.82,776.00) scale(1.0,1.04)" font-size="29.5" fill="#000">50° S</text><text transform="translate(1328.58,992.50) scale(1.0,1.04)" font-size="29.5" fill="#000">LONGITUDE</text><text transform="translate(399.25,1021.20) scale(1.0,1.04)" font-size="29.5" fill="#000">100° W</text><text transform="translate(597.82,1021.20) scale(1.0,1.04)" font-size="29.5" fill="#000">50° W</text><text transform="translate(820.85,1021.20) scale(1.0,1.04)" font-size="29.5" fill="#000">0°</text><text transform="translate(982.82,1021.20) scale(1.0,1.04)" font-size="29.5" fill="#000">50° E</text><text transform="translate(1162.75,1021.20) scale(1.0,1.04)" font-size="29.5" fill="#000">100° E</text><text transform="translate(113.52,561.20) scale(1.0,1.04)" font-size="29.5" fill="#000">Groups</text><circle cx="128.1" cy="586.6" r="10.1" fill="#5a3486"/><circle cx="128.1" cy="620.9" r="10.1" fill="#d38845"/><text transform="translate(146.58,596.30) scale(1.0,1.04)" font-size="29.5" fill="#000">Non-agricultural</text><text transform="translate(148.44,628.80) scale(1.0,1.04)" font-size="29.5" fill="#000">Agricultural</text><text transform="translate(113.16,690.10) scale(1.05,1.0)" font-size="29.5" fill="#000">RPM/sample</text><g fill="none" stroke="#1a1a1a" stroke-width="3.1"><circle cx="147.4" cy="716.9" r="14.4"/><circle cx="147.4" cy="760.4" r="19.5"/><circle cx="147.4" cy="811.8" r="23.0"/></g><text transform="translate(185.55,730.90) scale(1.0,1.04)" font-size="29.5" fill="#000">100000</text><text transform="translate(185.88,774.80) scale(1.0,1.04)" font-size="29.5" fill="#000">300000</text><text transform="translate(185.82,823.10) scale(1.0,1.04)" font-size="29.5" fill="#000">500000</text><text transform="translate(-1.44,1113.60) scale(1.0,1.04)" font-size="29.5" font-weight="bold" fill="#000">b</text><rect x="252.0" y="1212.4" width="70.0" height="198.5999999999999" fill="#8066a5"/><rect x="357.0" y="1187.2" width="70.0" height="223.79999999999995" fill="#d98a43"/><g stroke="#231f20" stroke-width="3.4"><line x1="286.5" y1="1212.4" x2="286.5" y2="1205.3"/><line x1="268.0" y1="1205.3" x2="304.3" y2="1205.3"/><line x1="391.8" y1="1187.2" x2="391.8" y2="1181.0"/><line x1="374.7" y1="1181.0" x2="408.6" y2="1181.0"/></g><g stroke="#231f20" stroke-width="3.4" fill="none"><line x1="217.9" y1="1142.2" x2="217.9" y2="1411.0"/><line x1="206.7" y1="1143.9" x2="217.9" y2="1143.9"/><line x1="206.7" y1="1210.7" x2="217.9" y2="1210.7"/><line x1="206.7" y1="1277.6" x2="217.9" y2="1277.6"/><line x1="206.7" y1="1344.3" x2="217.9" y2="1344.3"/><line x1="206.7" y1="1411.0" x2="217.9" y2="1411.0"/></g><line x1="206.7" y1="1411.0" x2="458.6" y2="1411.0" stroke="#231f20" stroke-width="3.4"/><line x1="286.5" y1="1411.0" x2="286.5" y2="1422.8" stroke="#231f20" stroke-width="3.4"/><line x1="391.8" y1="1411.0" x2="391.8" y2="1422.8" stroke="#231f20" stroke-width="3.4"/><text transform="translate(120.92,1156.50) scale(1,1.04)" font-size="29.5" fill="#231f20">80000</text><text transform="translate(120.92,1223.30) scale(1,1.04)" font-size="29.5" fill="#231f20">60000</text><text transform="translate(120.92,1290.20) scale(1,1.04)" font-size="29.5" fill="#231f20">40000</text><text transform="translate(120.92,1356.90) scale(1,1.04)" font-size="29.5" fill="#231f20">20000</text><text transform="translate(186.55,1423.60) scale(1,1.04)" font-size="29.5" fill="#231f20">0</text><text x="310.48" y="1162.84" font-size="35" fill="#231f20">*</text><text x="323.48" y="1162.84" font-size="35" fill="#231f20">*</text><text x="336.48" y="1162.84" font-size="35" fill="#231f20">*</text><text transform="translate(46.60,1398.06) rotate(-90) scale(1.0,1.04)" font-size="29.5" fill="#231f20">Abundance of plant-</text><text transform="translate(96.60,1436.95) rotate(-90) scale(1.025,1.04)" font-size="29.5" fill="#231f20">beneficial bacteria (RPM)</text><text transform="translate(140.16,1594.84) rotate(-45) scale(1,1.04)" font-size="29.5" fill="#231f20">Non-agricultural</text><text transform="translate(289.06,1553.94) rotate(-45) scale(1,1.04)" font-size="29.5" fill="#231f20">Agricultural</text><text transform="translate(544.85,1113.60) scale(1.0,1.04)" font-size="29.5" font-weight="bold" fill="#000">c</text><g fill="#58318a" stroke="#58318a" stroke-width="3" stroke-linejoin="round"><path d="M773,1204.5 L850,1204 L852,1208.5 L850,1212.3 L820,1212.8 L815.5,1215 L815,1233 L811,1236.5 L807,1233 L806.5,1215 L800,1212.8 L775,1212.8 L771,1208.5 Z"/><circle cx="811" cy="1246.8" r="3.5"/><path d="M811,1325 L818,1330 L820.5,1335 L817,1341 L811,1345.5 L805,1341 L801.5,1335 L804,1330 Z"/></g><g fill="#da8a42" stroke="#da8a42" stroke-width="3" stroke-linejoin="round"><path d="M892,1204.5 L950,1204 L956,1202.5 L969,1202 L971,1205 L969,1208 L955,1208.5 L936.5,1210.5 L936,1240 L932.7,1243 L929.5,1240 L929,1211 L892,1211 L890.5,1207.5 Z"/><path d="M932.7,1324.5 L937,1330 L938.5,1334 L936,1339 L932.7,1343.5 L929.5,1339 L927,1334 L928.5,1330 Z"/></g><g stroke="#231f20" stroke-width="2.6" fill="none"><line x1="811" y1="1187.5" x2="811" y2="1298.7"/><line x1="791" y1="1187.5" x2="831.1" y2="1187.5"/><line x1="791" y1="1298.7" x2="831.1" y2="1298.7"/><line x1="771" y1="1242.8" x2="851.4" y2="1242.8"/><line x1="932.7" y1="1182.2" x2="932.7" y2="1271.3"/><line x1="912.4" y1="1182.2" x2="952.8" y2="1182.2"/><line x1="912.4" y1="1271.3" x2="952.8" y2="1271.3"/><line x1="892.3" y1="1227" x2="969.7" y2="1224.7"/></g><g stroke="#231f20" stroke-width="3.4" fill="none"><line x1="730.9" y1="1127.3" x2="730.9" y2="1416.6"/><line x1="718.9" y1="1129.0" x2="730.9" y2="1129.0"/><line x1="718.9" y1="1186.6" x2="730.9" y2="1186.6"/><line x1="718.9" y1="1244.0" x2="730.9" y2="1244.0"/><line x1="718.9" y1="1301.6" x2="730.9" y2="1301.6"/><line x1="718.9" y1="1359.0" x2="730.9" y2="1359.0"/><line x1="718.9" y1="1416.6" x2="730.9" y2="1416.6"/></g><path d="M719,1417.2 L970.9,1414.2" stroke="#231f20" stroke-width="3.4" fill="none"/><line x1="811.0" y1="1415" x2="811.0" y2="1428.8" stroke="#231f20" stroke-width="3.4"/><line x1="932.8" y1="1415" x2="932.8" y2="1428.8" stroke="#231f20" stroke-width="3.4"/><text transform="translate(663.93,1136.60) scale(1,1.04)" font-size="29.5" fill="#231f20">500</text><text transform="translate(663.93,1194.20) scale(1,1.04)" font-size="29.5" fill="#231f20">400</text><text transform="translate(663.93,1251.60) scale(1,1.04)" font-size="29.5" fill="#231f20">300</text><text transform="translate(663.93,1309.20) scale(1,1.04)" font-size="29.5" fill="#231f20">200</text><text transform="translate(663.93,1366.60) scale(1,1.04)" font-size="29.5" fill="#231f20">100</text><text transform="translate(696.75,1424.20) scale(1,1.04)" font-size="29.5" fill="#231f20">0</text><text x="847.85" y="1158.72" font-size="29.5" fill="#231f20">*</text><text x="858.85" y="1158.72" font-size="29.5" fill="#231f20">*</text><text x="870.85" y="1158.72" font-size="29.5" fill="#231f20">*</text><text transform="translate(641.00,1392.49) rotate(-90) scale(1.03,1.04)" font-size="29.5" fill="#231f20">Richness index</text><text transform="translate(676.46,1595.84) rotate(-45) scale(1,1.04)" font-size="29.5" fill="#231f20">Non-agricultural</text><text transform="translate(843.76,1552.94) rotate(-45) scale(1,1.04)" font-size="29.5" fill="#231f20">Agricultural</text><text transform="translate(1066.59,1113.60) scale(1.0,1.04)" font-size="29.5" font-weight="bold" fill="#000">d</text><g fill="#58318a" stroke="#58318a" stroke-width="2.5" stroke-linejoin="round"><path d="M1271.6,1169.2L1260.3,1172.0L1253.9,1174.8L1253.2,1179.8L1258.9,1182.6L1266.6,1185.4L1267.3,1188.9L1257.7,1192.5L1256.7,1197.4L1246.2,1202.3L1238.4,1205.9L1236.3,1210.8L1237.0,1215.7L1251.8,1220.0L1258.9,1224.9L1258.2,1232.0L1261.4,1239.0L1266.2,1246.1L1267.3,1256.0L1270.9,1264.4L1271.3,1272.9L1273.3,1281.3L1273.7,1294.0L1274.1,1306.7L1275.8,1313.1L1279.3,1313.1L1281.0,1306.7L1281.4,1294.0L1281.7,1281.3L1283.1,1272.9L1283.6,1264.4L1287.8,1256.0L1290.2,1246.1L1292.0,1239.0L1297.7,1232.0L1296.3,1224.9L1301.9,1220.0L1318.8,1215.7L1319.5,1210.8L1315.3,1205.9L1303.3,1202.3L1298.4,1197.4L1297.2,1192.5L1288.5,1188.9L1289.2,1185.4L1298.4,1182.6L1302.3,1179.8L1301.9,1174.8L1298.4,1172.0L1284.3,1169.2Z"/><circle cx="1277.5" cy="1327.2" r="3.4"/><circle cx="1277.5" cy="1330.7" r="3.4"/><circle cx="1277.5" cy="1339.2" r="3.4"/><circle cx="1277.5" cy="1343.4" r="3.4"/><circle cx="1277.5" cy="1357.5" r="3.4"/><circle cx="1277.5" cy="1368.8" r="3.4"/></g><g fill="#da8a42" stroke="#da8a42" stroke-width="2.5" stroke-linejoin="round"><path d="M1400.7,1173.8L1383.0,1179.8L1371.0,1184.7L1366.1,1191.7L1360.5,1198.1L1356.2,1204.4L1358.3,1209.4L1377.4,1213.6L1384.4,1216.4L1390.1,1222.1L1391.2,1230.6L1387.3,1238.3L1393.6,1243.3L1395.7,1250.3L1397.4,1267.2L1398.3,1287.0L1398.8,1308.2L1400.0,1327.9L1401.4,1330.7L1405.3,1330.7L1407.0,1327.9L1407.4,1308.2L1408.0,1287.0L1408.7,1267.2L1410.1,1250.3L1412.0,1243.3L1418.3,1238.3L1414.4,1230.6L1415.5,1222.1L1421.1,1216.4L1425.4,1213.6L1438.8,1209.4L1440.9,1204.4L1437.4,1198.1L1432.4,1191.7L1428.2,1184.7L1422.5,1179.8L1405.6,1173.8Z"/><circle cx="1403.1" cy="1335.7" r="3.4"/><circle cx="1403.1" cy="1339.9" r="3.4"/><circle cx="1403.1" cy="1344.1" r="3.4"/><circle cx="1403.1" cy="1354.7" r="3.4"/><circle cx="1403.1" cy="1370.2" r="3.4"/><circle cx="1403.1" cy="1373.8" r="3.4"/></g><g fill="#4a8fb0"><circle cx="1280.2" cy="1206.3" r="0.6"/><circle cx="1281.8" cy="1224.9" r="0.6"/><circle cx="1269.7" cy="1261.0" r="0.6"/><circle cx="1291.4" cy="1174.6" r="0.6"/><circle cx="1257.0" cy="1209.3" r="0.6"/><circle cx="1286.3" cy="1239.1" r="0.6"/><circle cx="1280.7" cy="1239.9" r="0.6"/><circle cx="1282.5" cy="1194.0" r="0.6"/><circle cx="1277.7" cy="1295.2" r="0.6"/><circle cx="1278.9" cy="1277.3" r="0.6"/><circle cx="1289.9" cy="1181.7" r="0.6"/><circle cx="1273.9" cy="1256.1" r="0.6"/><circle cx="1294.6" cy="1177.1" r="0.6"/><circle cx="1282.9" cy="1239.4" r="0.6"/><circle cx="1278.7" cy="1296.7" r="0.6"/><circle cx="1277.0" cy="1302.7" r="0.6"/><circle cx="1277.1" cy="1285.7" r="0.6"/><circle cx="1279.6" cy="1304.7" r="0.6"/><circle cx="1270.5" cy="1186.5" r="0.6"/><circle cx="1300.3" cy="1203.3" r="0.6"/><circle cx="1282.6" cy="1234.2" r="0.6"/><circle cx="1278.5" cy="1215.2" r="0.6"/><circle cx="1272.3" cy="1227.1" r="0.6"/><circle cx="1280.0" cy="1255.3" r="0.6"/><circle cx="1278.6" cy="1300.3" r="0.6"/><circle cx="1279.5" cy="1303.8" r="0.6"/><circle cx="1278.4" cy="1312.5" r="0.6"/><circle cx="1290.9" cy="1195.7" r="0.6"/><circle cx="1279.4" cy="1308.8" r="0.6"/><circle cx="1282.8" cy="1253.0" r="0.6"/><circle cx="1292.9" cy="1202.5" r="0.6"/><circle cx="1273.5" cy="1253.6" r="0.6"/><circle cx="1294.4" cy="1181.7" r="0.6"/><circle cx="1275.6" cy="1312.4" r="0.6"/><circle cx="1276.9" cy="1285.7" r="0.6"/><circle cx="1269.8" cy="1194.0" r="0.6"/><circle cx="1280.8" cy="1281.2" r="0.6"/><circle cx="1283.1" cy="1178.9" r="0.6"/><circle cx="1287.9" cy="1179.0" r="0.6"/><circle cx="1308.2" cy="1219.4" r="0.6"/><circle cx="1277.6" cy="1311.1" r="0.6"/><circle cx="1244.2" cy="1216.4" r="0.6"/><circle cx="1269.0" cy="1257.3" r="0.6"/><circle cx="1273.9" cy="1200.6" r="0.6"/><circle cx="1271.3" cy="1258.8" r="0.6"/><circle cx="1294.7" cy="1178.7" r="0.6"/><circle cx="1314.4" cy="1217.0" r="0.6"/><circle cx="1276.9" cy="1299.2" r="0.6"/><circle cx="1278.7" cy="1237.7" r="0.6"/><circle cx="1279.3" cy="1263.6" r="0.6"/><circle cx="1280.8" cy="1251.6" r="0.6"/><circle cx="1277.6" cy="1305.4" r="0.6"/><circle cx="1286.1" cy="1233.5" r="0.6"/><circle cx="1262.0" cy="1206.2" r="0.6"/><circle cx="1277.7" cy="1310.7" r="0.6"/><circle cx="1267.6" cy="1250.1" r="0.6"/><circle cx="1280.4" cy="1231.3" r="0.6"/><circle cx="1283.2" cy="1175.5" r="0.6"/><circle cx="1269.6" cy="1261.9" r="0.6"/><circle cx="1276.9" cy="1261.2" r="0.6"/><circle cx="1275.7" cy="1268.5" r="0.6"/><circle cx="1279.7" cy="1272.5" r="0.6"/><circle cx="1257.8" cy="1175.8" r="0.6"/><circle cx="1282.0" cy="1268.1" r="0.6"/><circle cx="1273.6" cy="1208.1" r="0.6"/><circle cx="1274.3" cy="1256.3" r="0.6"/><circle cx="1267.9" cy="1224.1" r="0.6"/><circle cx="1281.4" cy="1224.8" r="0.6"/></g><g stroke="#231f20" stroke-width="2.8" fill="none"><line x1="1277.5" y1="1190.3" x2="1277.5" y2="1244.7"/><line x1="1257.5" y1="1190.3" x2="1297.7" y2="1190.3"/><line x1="1257.5" y1="1244.7" x2="1297.7" y2="1244.7"/><line x1="1237.4" y1="1217.1" x2="1318.1" y2="1217.1"/><line x1="1403.5" y1="1186.5" x2="1403.5" y2="1243.5"/><line x1="1383" y1="1186.5" x2="1423.3" y2="1186.5"/><line x1="1383" y1="1243.5" x2="1423.3" y2="1243.5"/><line x1="1358.3" y1="1215.3" x2="1444" y2="1215.3"/></g><g stroke="#231f20" stroke-width="3.4" fill="none"><line x1="1197.9" y1="1126.7" x2="1197.9" y2="1416.0"/><line x1="1185.9" y1="1128.4" x2="1197.9" y2="1128.4"/><line x1="1185.9" y1="1224.4" x2="1197.9" y2="1224.4"/><line x1="1185.9" y1="1319.7" x2="1197.9" y2="1319.7"/><line x1="1185.9" y1="1416.0" x2="1197.9" y2="1416.0"/></g><path d="M1185.7,1415.6 L1466.7,1416.6" stroke="#231f20" stroke-width="3.4" fill="none"/><line x1="1277.7" y1="1416" x2="1277.7" y2="1427" stroke="#231f20" stroke-width="3.4"/><line x1="1398.2" y1="1416" x2="1398.2" y2="1427" stroke="#231f20" stroke-width="3.4"/><text transform="translate(1163.09,1135.70) scale(1,1.04)" font-size="29.5" fill="#231f20">6</text><text transform="translate(1162.66,1231.70) scale(1,1.04)" font-size="29.5" fill="#231f20">4</text><text transform="translate(1163.28,1327.00) scale(1,1.04)" font-size="29.5" fill="#231f20">2</text><text transform="translate(1162.95,1423.30) scale(1,1.04)" font-size="29.5" fill="#231f20">0</text><text x="1316.85" y="1158.72" font-size="29.5" fill="#231f20">*</text><text x="1327.85" y="1158.72" font-size="29.5" fill="#231f20">*</text><text x="1339.85" y="1158.72" font-size="29.5" fill="#231f20">*</text><text transform="translate(1139.50,1389.89) rotate(-90) scale(1.038,1.04)" font-size="29.5" fill="#231f20">Shannon index</text><text transform="translate(1143.16,1595.84) rotate(-45) scale(1,1.04)" font-size="29.5" fill="#231f20">Non-agricultural</text><text transform="translate(1308.86,1552.94) rotate(-45) scale(1,1.04)" font-size="29.5" fill="#231f20">Agricultural</text><text transform="translate(1649.85,16.60) scale(1.0,1.04)" font-size="29.5" font-weight="bold" fill="#000">e</text><text transform="translate(1864.58,89.80) scale(1.0,1.04)" font-size="29.5" fill="#000">Biocontrol</text><rect x="1849.0" y="221.5" width="66.0" height="143.89999999999998" fill="#8066a5"/><rect x="1948.5" y="190.5" width="66.5" height="174.89999999999998" fill="#d98a43"/><g stroke="#231f20" stroke-width="3.4"><line x1="1882.0" y1="221.5" x2="1882.0" y2="191.3"/><line x1="1866.0" y1="191.3" x2="1898.0" y2="191.3"/><line x1="1981.5" y1="190.5" x2="1981.5" y2="155.0"/><line x1="1965.0" y1="155.0" x2="1997.6" y2="155.0"/></g><g stroke="#231f20" stroke-width="3.4" fill="none"><line x1="1816.5" y1="102.1" x2="1816.5" y2="365.4"/><line x1="1805.0" y1="103.8" x2="1816.5" y2="103.8"/><line x1="1805.0" y1="156.0" x2="1816.5" y2="156.0"/><line x1="1805.0" y1="208.8" x2="1816.5" y2="208.8"/><line x1="1805.0" y1="261.0" x2="1816.5" y2="261.0"/><line x1="1805.0" y1="312.6" x2="1816.5" y2="312.6"/><line x1="1805.0" y1="365.4" x2="1816.5" y2="365.4"/></g><line x1="1805.0" y1="365.4" x2="2049" y2="365.4" stroke="#231f20" stroke-width="3.4"/><line x1="1882.0" y1="365.4" x2="1882.0" y2="376.7" stroke="#231f20" stroke-width="3.4"/><line x1="1981.5" y1="365.4" x2="1981.5" y2="376.7" stroke="#231f20" stroke-width="3.4"/><text transform="translate(1753.73,110.80) scale(1,1.04)" font-size="29.5" fill="#231f20">500</text><text transform="translate(1753.73,163.00) scale(1,1.04)" font-size="29.5" fill="#231f20">400</text><text transform="translate(1753.73,215.80) scale(1,1.04)" font-size="29.5" fill="#231f20">300</text><text transform="translate(1753.73,268.00) scale(1,1.04)" font-size="29.5" fill="#231f20">200</text><text transform="translate(1753.73,319.60) scale(1,1.04)" font-size="29.5" fill="#231f20">100</text><text transform="translate(1786.55,372.40) scale(1,1.04)" font-size="29.5" fill="#231f20">0</text><text transform="translate(1915.98,137.80) scale(1,1.04)" font-size="29.5" fill="#231f20">ns</text><text transform="translate(1894.18,627.90) scale(1.0,1.04)" font-size="29.5" fill="#000">PGP</text><rect x="1848.5" y="736.5" width="65.5" height="169.5" fill="#8066a5"/><rect x="1948.3" y="703.0" width="65.70000000000005" height="203.0" fill="#d98a43"/><g stroke="#231f20" stroke-width="3.4"><line x1="1881.5" y1="736.5" x2="1881.5" y2="716.5"/><line x1="1865.2" y1="716.5" x2="1897.4" y2="716.5"/><line x1="1981.0" y1="703.0" x2="1981.0" y2="683.5"/><line x1="1963.8" y1="683.5" x2="1996.4" y2="683.5"/></g><g stroke="#231f20" stroke-width="3.4" fill="none"><line x1="1815.0" y1="640.3" x2="1815.0" y2="906.0"/><line x1="1804.0" y1="642.0" x2="1815.0" y2="642.0"/><line x1="1804.0" y1="695.7" x2="1815.0" y2="695.7"/><line x1="1804.0" y1="748.7" x2="1815.0" y2="748.7"/><line x1="1804.0" y1="800.9" x2="1815.0" y2="800.9"/><line x1="1804.0" y1="853.0" x2="1815.0" y2="853.0"/><line x1="1804.0" y1="906.0" x2="1815.0" y2="906.0"/></g><line x1="1804.0" y1="906.0" x2="2049" y2="906.0" stroke="#231f20" stroke-width="3.4"/><line x1="1881.5" y1="906.0" x2="1881.5" y2="917.0" stroke="#231f20" stroke-width="3.4"/><line x1="1981.0" y1="906.0" x2="1981.0" y2="917.0" stroke="#231f20" stroke-width="3.4"/><text transform="translate(1750.33,649.60) scale(1,1.04)" font-size="29.5" fill="#231f20">250</text><text transform="translate(1750.33,703.30) scale(1,1.04)" font-size="29.5" fill="#231f20">200</text><text transform="translate(1750.33,756.30) scale(1,1.04)" font-size="29.5" fill="#231f20">150</text><text transform="translate(1750.33,808.50) scale(1,1.04)" font-size="29.5" fill="#231f20">100</text><text transform="translate(1766.74,860.60) scale(1,1.04)" font-size="29.5" fill="#231f20">50</text><text transform="translate(1783.15,913.60) scale(1,1.04)" font-size="29.5" fill="#231f20">0</text><text x="1922.51" y="677.69" font-size="31" fill="#231f20">*</text><text transform="translate(1820.86,1117.00) scale(1.0,1.04)" font-size="29.5" fill="#000">Stress resistance</text><rect x="1848.5" y="1293.7" width="65.79999999999995" height="115.09999999999991" fill="#8066a5"/><rect x="1948.5" y="1254.5" width="66.0" height="154.29999999999995" fill="#d98a43"/><g stroke="#231f20" stroke-width="3.4"><line x1="1881.4" y1="1293.7" x2="1881.4" y2="1261.9"/><line x1="1864.6" y1="1261.9" x2="1897.5" y2="1261.9"/><line x1="1981.3" y1="1254.5" x2="1981.3" y2="1216.6"/><line x1="1965.2" y1="1216.6" x2="1997.4" y2="1216.6"/></g><g stroke="#231f20" stroke-width="3.4" fill="none"><line x1="1814.3" y1="1143.8" x2="1814.3" y2="1408.8"/><line x1="1804.3" y1="1145.5" x2="1814.3" y2="1145.5"/><line x1="1804.3" y1="1211.6" x2="1814.3" y2="1211.6"/><line x1="1804.3" y1="1277.3" x2="1814.3" y2="1277.3"/><line x1="1804.3" y1="1342.7" x2="1814.3" y2="1342.7"/><line x1="1804.3" y1="1408.8" x2="1814.3" y2="1408.8"/></g><line x1="1804.3" y1="1408.8" x2="2049" y2="1408.8" stroke="#231f20" stroke-width="3.4"/><line x1="1881.4" y1="1408.8" x2="1881.4" y2="1418.8" stroke="#231f20" stroke-width="3.4"/><line x1="1981.3" y1="1408.8" x2="1981.3" y2="1418.8" stroke="#231f20" stroke-width="3.4"/><text transform="translate(1749.63,1152.60) scale(1,1.04)" font-size="29.5" fill="#231f20">800</text><text transform="translate(1749.63,1218.70) scale(1,1.04)" font-size="29.5" fill="#231f20">600</text><text transform="translate(1749.63,1284.40) scale(1,1.04)" font-size="29.5" fill="#231f20">400</text><text transform="translate(1749.63,1349.80) scale(1,1.04)" font-size="29.5" fill="#231f20">200</text><text transform="translate(1782.45,1415.90) scale(1,1.04)" font-size="29.5" fill="#231f20">0</text><text transform="translate(1910.68,1177.00) scale(1,1.04)" font-size="29.5" fill="#231f20">ns</text><text transform="translate(1744.96,1596.14) rotate(-45) scale(1,1.04)" font-size="29.5" fill="#231f20">Non-agricultural</text><text transform="translate(1887.46,1556.94) rotate(-45) scale(1,1.04)" font-size="29.5" fill="#231f20">Agricultural</text><text transform="translate(1704.00,1055.66) rotate(-90) scale(1.02,1.04)" font-size="29.5" fill="#231f20">Abundance of plant-beneficial bacteria (RPM)</text></svg></body></html>
